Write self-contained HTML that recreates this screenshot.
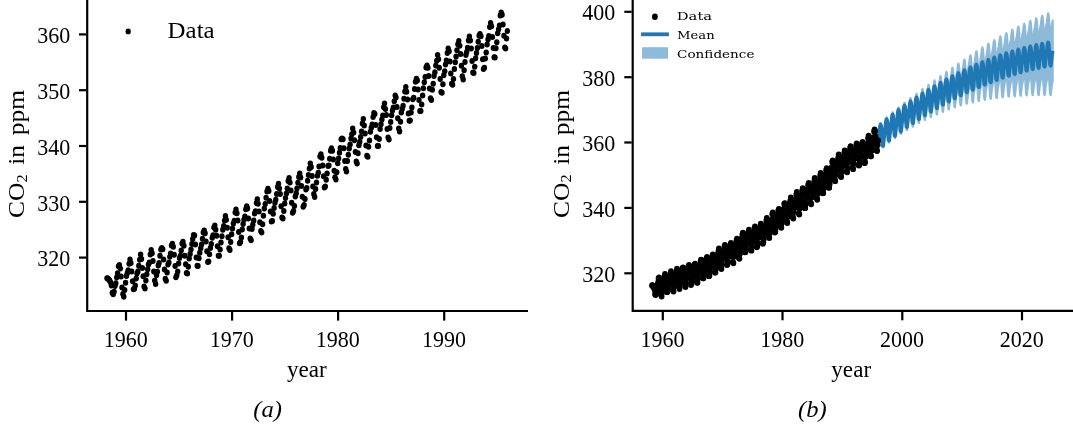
<!DOCTYPE html>
<html lang="en"><head><meta charset="utf-8"><title>CO2 in ppm</title>
<style>html,body{margin:0;padding:0;background:#fff}body{width:1073px;height:427px;overflow:hidden}svg{display:block}</style></head>
<body>
<svg width="1073" height="427" viewBox="0 0 1073 427">
<rect width="1073" height="427" fill="#fff"/>
<g opacity="0.5"><polygon fill="#1f77b4" stroke="#1f77b4" stroke-width="2.2" stroke-linejoin="round" points="878.1,139.5 878.6,136.0 879.1,133.3 879.6,129.4 880.1,125.0 880.6,122.9 881.1,124.5 881.6,130.1 882.1,137.8 882.6,143.5 883.1,143.8 883.6,139.2 884.1,133.7 884.6,130.2 885.1,127.6 885.6,123.7 886.1,119.4 886.6,117.3 887.1,119.0 887.6,124.7 888.1,132.3 888.6,138.2 889.1,138.5 889.6,133.9 890.1,128.5 890.6,125.0 891.1,122.4 891.6,118.5 892.1,114.3 892.6,112.2 893.1,114.0 893.6,119.6 894.1,127.3 894.6,133.2 895.1,133.6 895.6,129.0 896.1,123.6 896.6,120.2 897.1,117.5 897.6,113.7 898.0,109.5 898.5,107.4 899.0,109.1 899.5,114.8 900.0,122.5 900.5,128.4 901.0,128.7 901.5,124.1 902.0,118.8 902.5,115.3 903.0,112.7 903.5,108.9 904.0,104.7 904.5,102.6 905.0,104.4 905.5,110.1 906.0,117.8 906.5,123.7 907.0,124.1 907.5,119.5 908.0,114.1 908.5,110.7 909.0,108.1 909.5,104.3 910.0,100.1 910.5,98.0 911.0,99.8 911.5,105.5 912.0,113.3 912.5,119.1 913.0,119.5 913.5,115.0 914.0,109.6 914.5,106.2 915.0,103.6 915.5,99.8 916.0,95.6 916.5,93.5 917.0,95.3 917.5,101.0 918.0,108.7 918.5,114.6 919.0,115.0 919.5,110.4 920.0,105.1 920.5,101.7 921.0,99.1 921.5,95.3 922.0,91.1 922.5,89.0 923.0,90.8 923.5,96.5 924.0,104.3 924.5,110.2 925.0,110.6 925.5,106.0 926.0,100.6 926.5,97.3 927.0,94.7 927.5,90.9 928.0,86.7 928.5,84.7 929.0,86.5 929.5,92.2 930.0,99.9 930.5,105.8 931.0,106.3 931.5,101.7 932.0,96.4 932.5,93.0 933.0,90.4 933.5,86.6 934.0,82.5 934.5,80.4 935.0,82.2 935.5,87.9 936.0,95.7 936.5,101.5 937.0,102.0 937.5,97.4 938.0,92.0 938.5,88.7 939.0,86.1 939.5,82.3 940.0,78.1 940.5,76.1 941.0,77.9 941.5,83.6 942.0,91.3 942.5,97.2 943.0,97.7 943.5,93.1 943.9,87.8 944.4,84.4 944.9,81.8 945.4,78.0 945.9,73.8 946.4,71.8 946.9,73.6 947.4,79.4 947.9,87.1 948.4,93.0 948.9,93.5 949.4,88.9 949.9,83.6 950.4,80.2 950.9,77.6 951.4,73.9 951.9,69.7 952.4,67.7 952.9,69.5 953.4,75.2 953.9,83.0 954.4,88.9 954.9,89.3 955.4,84.8 955.9,79.4 956.4,76.1 956.9,73.5 957.4,69.7 957.9,65.5 958.4,63.5 958.9,65.4 959.4,71.1 959.9,78.9 960.4,84.8 960.9,85.2 961.4,80.7 961.9,75.4 962.4,72.0 962.9,69.4 963.4,65.7 963.9,61.5 964.4,59.5 964.9,61.3 965.4,67.0 965.9,74.8 966.4,80.7 966.9,81.1 967.4,76.6 967.9,71.2 968.4,67.9 968.9,65.3 969.4,61.5 969.9,57.4 970.4,55.3 970.9,57.2 971.4,62.9 971.9,70.7 972.4,76.6 972.9,77.0 973.4,72.5 973.9,67.2 974.4,63.8 974.9,61.2 975.4,57.5 975.9,53.3 976.4,51.3 976.9,53.2 977.4,58.9 977.9,66.7 978.4,72.6 978.9,73.1 979.4,68.5 979.9,63.2 980.4,59.9 980.9,57.3 981.4,53.6 981.9,49.4 982.4,47.4 982.9,49.3 983.4,55.0 983.9,62.8 984.4,68.7 984.9,69.2 985.4,64.7 985.9,59.4 986.4,56.1 986.9,53.5 987.4,49.8 987.9,45.6 988.4,43.6 988.9,45.5 989.4,51.3 989.8,59.1 990.3,65.0 990.8,65.5 991.3,61.0 991.8,55.7 992.3,52.3 992.8,49.8 993.3,46.1 993.8,41.9 994.3,40.0 994.8,41.8 995.3,47.6 995.8,55.4 996.3,61.4 996.8,61.8 997.3,57.4 997.8,52.1 998.3,48.7 998.8,46.2 999.3,42.5 999.8,38.4 1000.3,36.4 1000.8,38.3 1001.3,44.1 1001.8,51.9 1002.3,57.8 1002.8,58.3 1003.3,53.9 1003.8,48.6 1004.3,45.3 1004.8,42.7 1005.3,39.0 1005.8,34.9 1006.3,33.0 1006.8,34.9 1007.3,40.7 1007.8,48.5 1008.3,54.5 1008.8,55.0 1009.3,50.5 1009.8,45.2 1010.3,41.9 1010.8,39.4 1011.3,35.7 1011.8,31.6 1012.3,29.7 1012.8,31.6 1013.3,37.4 1013.8,45.2 1014.3,51.2 1014.8,51.7 1015.3,47.3 1015.8,42.0 1016.3,38.7 1016.8,36.2 1017.3,32.6 1017.8,28.5 1018.3,26.6 1018.8,28.5 1019.3,34.3 1019.8,42.2 1020.3,48.2 1020.8,48.7 1021.3,44.3 1021.8,39.1 1022.3,35.8 1022.8,33.3 1023.3,29.7 1023.8,25.6 1024.3,23.7 1024.8,25.6 1025.3,31.4 1025.8,39.3 1026.3,45.3 1026.8,45.9 1027.3,41.5 1027.8,36.2 1028.3,33.0 1028.8,30.5 1029.3,26.9 1029.8,22.8 1030.3,20.9 1030.8,22.9 1031.3,28.7 1031.8,36.6 1032.3,42.6 1032.8,43.2 1033.3,38.8 1033.8,33.6 1034.3,30.3 1034.8,27.9 1035.3,24.2 1035.8,20.2 1036.2,18.3 1036.7,20.3 1037.2,26.1 1037.7,34.0 1038.2,40.1 1038.7,40.6 1039.2,36.2 1039.7,31.0 1040.2,27.8 1040.7,25.3 1041.2,21.7 1041.7,17.7 1042.2,15.8 1042.7,17.8 1043.2,23.6 1043.7,31.5 1044.2,37.6 1044.7,38.2 1045.2,33.8 1045.7,28.6 1046.2,25.4 1046.7,22.9 1047.2,19.3 1047.7,15.3 1048.2,13.4 1048.7,15.4 1049.2,21.3 1049.7,29.2 1050.2,35.3 1050.7,35.9 1051.2,31.5 1051.7,26.3 1052.2,23.1 1052.7,20.7 1052.7,80.8 1052.2,83.0 1051.7,86.1 1051.2,91.0 1050.7,95.2 1050.2,94.4 1049.7,88.2 1049.2,80.1 1048.7,74.0 1048.2,71.8 1047.7,73.5 1047.2,77.3 1046.7,80.7 1046.2,82.9 1045.7,85.9 1045.2,90.9 1044.7,95.1 1044.2,94.3 1043.7,88.1 1043.2,80.0 1042.7,73.9 1042.2,71.7 1041.7,73.4 1041.2,77.2 1040.7,80.6 1040.2,82.9 1039.7,85.9 1039.2,90.9 1038.7,95.1 1038.2,94.3 1037.7,88.1 1037.2,80.0 1036.7,73.9 1036.2,71.7 1035.8,73.4 1035.3,77.3 1034.8,80.7 1034.3,82.9 1033.8,86.0 1033.3,91.0 1032.8,95.2 1032.3,94.4 1031.8,88.2 1031.3,80.1 1030.8,74.0 1030.3,71.9 1029.8,73.6 1029.3,77.4 1028.8,80.9 1028.3,83.1 1027.8,86.2 1027.3,91.2 1026.8,95.4 1026.3,94.7 1025.8,88.5 1025.3,80.4 1024.8,74.3 1024.3,72.2 1023.8,73.9 1023.3,77.8 1022.8,81.2 1022.3,83.5 1021.8,86.5 1021.3,91.6 1020.8,95.8 1020.3,95.1 1019.8,88.8 1019.3,80.8 1018.8,74.7 1018.3,72.6 1017.8,74.3 1017.3,78.2 1016.8,81.7 1016.3,83.9 1015.8,87.0 1015.3,92.0 1014.8,96.3 1014.3,95.5 1013.8,89.3 1013.3,81.2 1012.8,75.2 1012.3,73.1 1011.8,74.8 1011.3,78.6 1010.8,82.1 1010.3,84.4 1009.8,87.4 1009.3,92.5 1008.8,96.7 1008.3,96.0 1007.8,89.8 1007.3,81.7 1006.8,75.7 1006.3,73.6 1005.8,75.3 1005.3,79.2 1004.8,82.6 1004.3,84.9 1003.8,88.0 1003.3,93.1 1002.8,97.3 1002.3,96.6 1001.8,90.4 1001.3,82.3 1000.8,76.3 1000.3,74.2 999.8,76.0 999.3,79.8 998.8,83.3 998.3,85.6 997.8,88.7 997.3,93.8 996.8,98.0 996.3,97.3 995.8,91.1 995.3,83.1 994.8,77.1 994.3,75.0 993.8,76.7 993.3,80.6 992.8,84.1 992.3,86.4 991.8,89.5 991.3,94.6 990.8,98.9 990.3,98.2 989.8,92.0 989.4,84.0 988.9,78.0 988.4,75.9 987.9,77.7 987.4,81.6 986.9,85.1 986.4,87.4 985.9,90.5 985.4,95.6 984.9,99.9 984.4,99.2 983.9,93.0 983.4,85.0 982.9,79.0 982.4,77.0 981.9,78.7 981.4,82.7 980.9,86.2 980.4,88.5 979.9,91.6 979.4,96.7 978.9,101.0 978.4,100.4 977.9,94.2 977.4,86.2 976.9,80.2 976.4,78.2 975.9,80.0 975.4,83.9 974.9,87.4 974.4,89.8 973.9,92.9 973.4,98.0 972.9,102.3 972.4,101.6 971.9,95.5 971.4,87.5 970.9,81.5 970.4,79.5 969.9,81.3 969.4,85.2 968.9,88.8 968.4,91.1 967.9,94.3 967.4,99.4 966.9,103.7 966.4,103.1 965.9,96.9 965.4,88.9 964.9,83.0 964.4,81.0 963.9,82.8 963.4,86.7 962.9,90.3 962.4,92.7 961.9,95.9 961.4,101.0 960.9,105.4 960.4,104.8 959.9,98.7 959.4,90.7 958.9,84.8 958.4,82.8 957.9,84.6 957.4,88.6 956.9,92.2 956.4,94.6 955.9,97.8 955.4,103.0 954.9,107.3 954.4,106.7 953.9,100.6 953.4,92.7 952.9,86.8 952.4,84.8 951.9,86.7 951.4,90.7 950.9,94.2 950.4,96.7 949.9,99.9 949.4,105.1 948.9,109.4 948.4,108.9 947.9,102.8 947.4,94.9 946.9,89.0 946.4,87.0 945.9,88.9 945.4,92.9 944.9,96.5 944.4,99.0 943.9,102.2 943.5,107.4 943.0,111.8 942.5,111.2 942.0,105.2 941.5,97.3 941.0,91.4 940.5,89.4 940.0,91.3 939.5,95.4 939.0,99.0 938.5,101.4 938.0,104.7 937.5,109.9 937.0,114.3 936.5,113.7 936.0,107.7 935.5,99.8 935.0,93.9 934.5,92.0 934.0,93.9 933.5,98.0 933.0,101.6 932.5,104.1 932.0,107.4 931.5,112.6 931.0,117.1 930.5,116.5 930.0,110.5 929.5,102.7 929.0,96.8 928.5,94.9 928.0,96.8 927.5,100.9 927.0,104.6 926.5,107.1 926.0,110.4 925.5,115.6 925.0,120.1 924.5,119.5 924.0,113.6 923.5,105.7 923.0,99.9 922.5,98.0 922.0,99.9 921.5,104.0 921.0,107.7 920.5,110.2 920.0,113.5 919.5,118.8 919.0,123.2 918.5,122.7 918.0,116.7 917.5,108.9 917.0,103.1 916.5,101.2 916.0,103.1 915.5,107.2 915.0,110.9 914.5,113.5 914.0,116.8 913.5,122.1 913.0,126.6 912.5,126.1 912.0,120.1 911.5,112.3 911.0,106.5 910.5,104.7 910.0,106.7 909.5,110.8 909.0,114.5 908.5,117.1 908.0,120.4 907.5,125.7 907.0,130.2 906.5,129.7 906.0,123.8 905.5,116.0 905.0,110.2 904.5,108.4 904.0,110.4 903.5,114.5 903.0,118.3 902.5,120.8 902.0,124.2 901.5,129.5 901.0,134.0 900.5,133.6 900.0,127.6 899.5,119.8 899.0,114.1 898.5,112.3 898.0,114.3 897.6,118.4 897.1,122.2 896.6,124.8 896.1,128.1 895.6,133.5 895.1,138.1 894.6,137.6 894.1,131.8 893.6,124.0 893.1,118.3 892.6,116.5 892.1,118.6 891.6,122.8 891.1,126.6 890.6,129.2 890.1,132.6 889.6,138.0 889.1,142.6 888.6,142.2 888.1,136.3 887.6,128.6 887.1,122.9 886.6,121.2 886.1,123.2 885.6,127.5 885.1,131.3 884.6,134.0 884.1,137.4 883.6,142.8 883.1,147.5 882.6,147.1 882.1,141.3 881.6,133.6 881.1,128.0 880.6,126.3 880.1,128.4 879.6,132.7 879.1,136.6 878.6,139.3 878.1,142.8"/></g>
<polyline fill="none" stroke="#1f77b4" stroke-width="3.9" stroke-linejoin="round" stroke-linecap="butt" points="878.1,141.2 878.6,137.7 879.1,134.9 879.6,131.0 880.1,126.7 880.6,124.6 881.1,126.3 881.6,131.9 882.1,139.5 882.6,145.3 883.1,145.7 883.6,141.0 884.1,135.6 884.6,132.1 885.1,129.4 885.6,125.6 886.1,121.3 886.6,119.2 887.1,121.0 887.6,126.6 888.1,134.3 888.6,140.2 889.1,140.5 889.6,135.9 890.1,130.5 890.6,127.1 891.1,124.5 891.6,120.7 892.1,116.4 892.6,114.4 893.1,116.1 893.6,121.8 894.1,129.6 894.6,135.4 895.1,135.8 895.6,131.2 896.1,125.9 896.6,122.5 897.1,119.9 897.6,116.1 898.0,111.9 898.5,109.8 899.0,111.6 899.5,117.3 900.0,125.1 900.5,131.0 901.0,131.4 901.5,126.8 902.0,121.5 902.5,118.1 903.0,115.5 903.5,111.7 904.0,107.5 904.5,105.5 905.0,107.3 905.5,113.0 906.0,120.8 906.5,126.7 907.0,127.1 907.5,122.6 908.0,117.2 908.5,113.9 909.0,111.3 909.5,107.5 910.0,103.4 910.5,101.3 911.0,103.2 911.5,108.9 912.0,116.7 912.5,122.6 913.0,123.0 913.5,118.5 914.0,113.2 914.5,109.8 915.0,107.3 915.5,103.5 916.0,99.4 916.5,97.4 917.0,99.2 917.5,104.9 918.0,112.7 918.5,118.7 919.0,119.1 919.5,114.6 920.0,109.3 920.5,105.9 921.0,103.4 921.5,99.6 922.0,95.5 922.5,93.5 923.0,95.4 923.5,101.1 924.0,108.9 924.5,114.9 925.0,115.3 925.5,110.8 926.0,105.5 926.5,102.2 927.0,99.6 927.5,95.9 928.0,91.8 928.5,89.8 929.0,91.7 929.5,97.4 930.0,105.2 930.5,111.2 931.0,111.7 931.5,107.2 932.0,101.9 932.5,98.5 933.0,96.0 933.5,92.3 934.0,88.2 934.5,86.2 935.0,88.1 935.5,93.9 936.0,101.7 936.5,107.6 937.0,108.1 937.5,103.7 938.0,98.4 938.5,95.1 939.0,92.5 939.5,88.8 940.0,84.7 940.5,82.7 941.0,84.6 941.5,90.4 942.0,98.3 942.5,104.2 943.0,104.7 943.5,100.3 943.9,95.0 944.4,91.7 944.9,89.2 945.4,85.5 945.9,81.4 946.4,79.4 946.9,81.3 947.4,87.1 947.9,95.0 948.4,101.0 948.9,101.5 949.4,97.0 949.9,91.7 950.4,88.4 950.9,85.9 951.4,82.3 951.9,78.2 952.4,76.2 952.9,78.1 953.4,84.0 953.9,91.8 954.4,97.8 954.9,98.3 955.4,93.9 955.9,88.6 956.4,85.3 956.9,82.8 957.4,79.2 957.9,75.1 958.4,73.2 958.9,75.1 959.4,80.9 959.9,88.8 960.4,94.8 960.9,95.3 961.4,90.9 961.9,85.6 962.4,82.4 962.9,79.9 963.4,76.2 963.9,72.2 964.4,70.2 964.9,72.2 965.4,78.0 965.9,85.9 966.4,91.9 966.9,92.4 967.4,88.0 967.9,82.8 968.4,79.5 968.9,77.0 969.4,73.4 969.9,69.3 970.4,67.4 970.9,69.4 971.4,75.2 971.9,83.1 972.4,89.1 972.9,89.7 973.4,85.3 973.9,80.0 974.4,76.8 974.9,74.3 975.4,70.7 975.9,66.6 976.4,64.7 976.9,66.7 977.4,72.5 977.9,80.4 978.4,86.5 978.9,87.0 979.4,82.6 979.9,77.4 980.4,74.2 980.9,71.7 981.4,68.1 981.9,64.1 982.4,62.2 982.9,64.2 983.4,70.0 983.9,77.9 984.4,84.0 984.9,84.5 985.4,80.2 985.9,74.9 986.4,71.7 986.9,69.3 987.4,65.7 987.9,61.6 988.4,59.8 988.9,61.7 989.4,67.6 989.8,75.5 990.3,81.6 990.8,82.2 991.3,77.8 991.8,72.6 992.3,69.4 992.8,67.0 993.3,63.4 993.8,59.3 994.3,57.5 994.8,59.5 995.3,65.3 995.8,73.3 996.3,79.3 996.8,79.9 997.3,75.6 997.8,70.4 998.3,67.2 998.8,64.8 999.3,61.2 999.8,57.2 1000.3,55.3 1000.8,57.3 1001.3,63.2 1001.8,71.1 1002.3,77.2 1002.8,77.8 1003.3,73.5 1003.8,68.3 1004.3,65.1 1004.8,62.7 1005.3,59.1 1005.8,55.1 1006.3,53.3 1006.8,55.3 1007.3,61.2 1007.8,69.1 1008.3,75.2 1008.8,75.8 1009.3,71.5 1009.8,66.3 1010.3,63.1 1010.8,60.8 1011.3,57.2 1011.8,53.2 1012.3,51.4 1012.8,53.4 1013.3,59.3 1013.8,67.3 1014.3,73.4 1014.8,74.0 1015.3,69.6 1015.8,64.5 1016.3,61.3 1016.8,58.9 1017.3,55.4 1017.8,51.4 1018.3,49.6 1018.8,51.6 1019.3,57.5 1019.8,65.5 1020.3,71.6 1020.8,72.3 1021.3,67.9 1021.8,62.8 1022.3,59.6 1022.8,57.3 1023.3,53.7 1023.8,49.7 1024.3,47.9 1024.8,50.0 1025.3,55.9 1025.8,63.9 1026.3,70.0 1026.8,70.7 1027.3,66.3 1027.8,61.2 1028.3,58.1 1028.8,55.7 1029.3,52.2 1029.8,48.2 1030.3,46.4 1030.8,48.5 1031.3,54.4 1031.8,62.4 1032.3,68.5 1032.8,69.2 1033.3,64.9 1033.8,59.8 1034.3,56.6 1034.8,54.3 1035.3,50.7 1035.8,46.8 1036.2,45.0 1036.7,47.1 1037.2,53.0 1037.7,61.0 1038.2,67.2 1038.7,67.9 1039.2,63.6 1039.7,58.5 1040.2,55.3 1040.7,53.0 1041.2,49.5 1041.7,45.5 1042.2,43.8 1042.7,45.8 1043.2,51.8 1043.7,59.8 1044.2,66.0 1044.7,66.6 1045.2,62.4 1045.7,57.3 1046.2,54.1 1046.7,51.8 1047.2,48.3 1047.7,44.4 1048.2,42.6 1048.7,44.7 1049.2,50.7 1049.7,58.7 1050.2,64.9 1050.7,65.6 1051.2,61.3 1051.7,56.2 1052.2,53.1 1052.7,50.8"/>
<g fill="#000">
<ellipse cx="107.0" cy="278.3" rx="2.7" ry="3.0"/>
<ellipse cx="107.9" cy="278.6" rx="2.7" ry="3.0"/>
<ellipse cx="108.8" cy="279.4" rx="2.7" ry="3.0"/>
<ellipse cx="109.6" cy="280.5" rx="2.7" ry="3.0"/>
<ellipse cx="110.5" cy="282.2" rx="2.7" ry="3.0"/>
<ellipse cx="111.4" cy="285.6" rx="2.7" ry="3.0"/>
<ellipse cx="112.3" cy="292.8" rx="2.7" ry="3.0"/>
<ellipse cx="113.2" cy="294.2" rx="2.7" ry="3.0"/>
<ellipse cx="114.1" cy="291.7" rx="2.7" ry="3.0"/>
<ellipse cx="115.0" cy="286.1" rx="2.7" ry="3.0"/>
<ellipse cx="115.8" cy="283.3" rx="2.7" ry="3.0"/>
<ellipse cx="116.7" cy="277.4" rx="2.7" ry="3.0"/>
<ellipse cx="117.6" cy="273.2" rx="2.7" ry="3.0"/>
<ellipse cx="118.5" cy="266.3" rx="2.7" ry="3.0"/>
<ellipse cx="119.4" cy="265.1" rx="2.7" ry="3.0"/>
<ellipse cx="120.3" cy="268.6" rx="2.7" ry="3.0"/>
<ellipse cx="121.1" cy="276.4" rx="2.7" ry="3.0"/>
<ellipse cx="122.0" cy="287.6" rx="2.7" ry="3.0"/>
<ellipse cx="122.9" cy="294.0" rx="2.7" ry="3.0"/>
<ellipse cx="123.8" cy="296.7" rx="2.7" ry="3.0"/>
<ellipse cx="124.7" cy="290.1" rx="2.7" ry="3.0"/>
<ellipse cx="125.6" cy="282.7" rx="2.7" ry="3.0"/>
<ellipse cx="126.4" cy="275.9" rx="2.7" ry="3.0"/>
<ellipse cx="127.3" cy="273.3" rx="2.7" ry="3.0"/>
<ellipse cx="128.2" cy="270.2" rx="2.7" ry="3.0"/>
<ellipse cx="129.1" cy="263.8" rx="2.7" ry="3.0"/>
<ellipse cx="130.0" cy="259.4" rx="2.7" ry="3.0"/>
<ellipse cx="130.9" cy="263.1" rx="2.7" ry="3.0"/>
<ellipse cx="131.7" cy="271.4" rx="2.7" ry="3.0"/>
<ellipse cx="132.6" cy="281.2" rx="2.7" ry="3.0"/>
<ellipse cx="133.5" cy="289.3" rx="2.7" ry="3.0"/>
<ellipse cx="134.4" cy="288.8" rx="2.7" ry="3.0"/>
<ellipse cx="135.3" cy="285.4" rx="2.7" ry="3.0"/>
<ellipse cx="136.2" cy="278.5" rx="2.7" ry="3.0"/>
<ellipse cx="137.0" cy="273.6" rx="2.7" ry="3.0"/>
<ellipse cx="137.9" cy="271.5" rx="2.7" ry="3.0"/>
<ellipse cx="138.8" cy="265.7" rx="2.7" ry="3.0"/>
<ellipse cx="139.7" cy="259.7" rx="2.7" ry="3.0"/>
<ellipse cx="140.6" cy="254.5" rx="2.7" ry="3.0"/>
<ellipse cx="141.5" cy="258.9" rx="2.7" ry="3.0"/>
<ellipse cx="142.4" cy="268.1" rx="2.7" ry="3.0"/>
<ellipse cx="143.2" cy="276.3" rx="2.7" ry="3.0"/>
<ellipse cx="144.1" cy="286.4" rx="2.7" ry="3.0"/>
<ellipse cx="145.0" cy="288.5" rx="2.7" ry="3.0"/>
<ellipse cx="145.9" cy="280.6" rx="2.7" ry="3.0"/>
<ellipse cx="146.8" cy="274.2" rx="2.7" ry="3.0"/>
<ellipse cx="147.7" cy="269.3" rx="2.7" ry="3.0"/>
<ellipse cx="148.5" cy="264.6" rx="2.7" ry="3.0"/>
<ellipse cx="149.4" cy="262.6" rx="2.7" ry="3.0"/>
<ellipse cx="150.3" cy="254.4" rx="2.7" ry="3.0"/>
<ellipse cx="151.2" cy="250.1" rx="2.7" ry="3.0"/>
<ellipse cx="152.1" cy="253.3" rx="2.7" ry="3.0"/>
<ellipse cx="153.0" cy="260.9" rx="2.7" ry="3.0"/>
<ellipse cx="153.8" cy="271.5" rx="2.7" ry="3.0"/>
<ellipse cx="154.7" cy="280.4" rx="2.7" ry="3.0"/>
<ellipse cx="155.6" cy="283.9" rx="2.7" ry="3.0"/>
<ellipse cx="156.5" cy="275.3" rx="2.7" ry="3.0"/>
<ellipse cx="157.4" cy="271.7" rx="2.7" ry="3.0"/>
<ellipse cx="158.3" cy="265.4" rx="2.7" ry="3.0"/>
<ellipse cx="159.1" cy="263.0" rx="2.7" ry="3.0"/>
<ellipse cx="160.0" cy="255.8" rx="2.7" ry="3.0"/>
<ellipse cx="160.9" cy="249.4" rx="2.7" ry="3.0"/>
<ellipse cx="161.8" cy="248.0" rx="2.7" ry="3.0"/>
<ellipse cx="162.7" cy="249.2" rx="2.7" ry="3.0"/>
<ellipse cx="163.6" cy="259.6" rx="2.7" ry="3.0"/>
<ellipse cx="164.5" cy="269.5" rx="2.7" ry="3.0"/>
<ellipse cx="165.3" cy="278.8" rx="2.7" ry="3.0"/>
<ellipse cx="166.2" cy="280.8" rx="2.7" ry="3.0"/>
<ellipse cx="167.1" cy="272.6" rx="2.7" ry="3.0"/>
<ellipse cx="168.0" cy="264.6" rx="2.7" ry="3.0"/>
<ellipse cx="168.9" cy="262.5" rx="2.7" ry="3.0"/>
<ellipse cx="169.8" cy="256.8" rx="2.7" ry="3.0"/>
<ellipse cx="170.6" cy="253.5" rx="2.7" ry="3.0"/>
<ellipse cx="171.5" cy="245.4" rx="2.7" ry="3.0"/>
<ellipse cx="172.4" cy="243.7" rx="2.7" ry="3.0"/>
<ellipse cx="173.3" cy="246.7" rx="2.7" ry="3.0"/>
<ellipse cx="174.2" cy="254.8" rx="2.7" ry="3.0"/>
<ellipse cx="175.1" cy="266.0" rx="2.7" ry="3.0"/>
<ellipse cx="175.9" cy="277.2" rx="2.7" ry="3.0"/>
<ellipse cx="176.8" cy="275.2" rx="2.7" ry="3.0"/>
<ellipse cx="177.7" cy="271.4" rx="2.7" ry="3.0"/>
<ellipse cx="178.6" cy="263.4" rx="2.7" ry="3.0"/>
<ellipse cx="179.5" cy="258.0" rx="2.7" ry="3.0"/>
<ellipse cx="180.4" cy="255.7" rx="2.7" ry="3.0"/>
<ellipse cx="181.2" cy="250.5" rx="2.7" ry="3.0"/>
<ellipse cx="182.1" cy="243.4" rx="2.7" ry="3.0"/>
<ellipse cx="183.0" cy="241.7" rx="2.7" ry="3.0"/>
<ellipse cx="183.9" cy="245.8" rx="2.7" ry="3.0"/>
<ellipse cx="184.8" cy="255.8" rx="2.7" ry="3.0"/>
<ellipse cx="185.7" cy="264.3" rx="2.7" ry="3.0"/>
<ellipse cx="186.5" cy="273.0" rx="2.7" ry="3.0"/>
<ellipse cx="187.4" cy="273.4" rx="2.7" ry="3.0"/>
<ellipse cx="188.3" cy="266.8" rx="2.7" ry="3.0"/>
<ellipse cx="189.2" cy="258.6" rx="2.7" ry="3.0"/>
<ellipse cx="190.1" cy="254.0" rx="2.7" ry="3.0"/>
<ellipse cx="191.0" cy="249.4" rx="2.7" ry="3.0"/>
<ellipse cx="191.9" cy="243.9" rx="2.7" ry="3.0"/>
<ellipse cx="192.7" cy="238.9" rx="2.7" ry="3.0"/>
<ellipse cx="193.6" cy="235.0" rx="2.7" ry="3.0"/>
<ellipse cx="194.5" cy="235.4" rx="2.7" ry="3.0"/>
<ellipse cx="195.4" cy="244.6" rx="2.7" ry="3.0"/>
<ellipse cx="196.3" cy="257.6" rx="2.7" ry="3.0"/>
<ellipse cx="197.2" cy="265.8" rx="2.7" ry="3.0"/>
<ellipse cx="198.0" cy="265.9" rx="2.7" ry="3.0"/>
<ellipse cx="198.9" cy="258.3" rx="2.7" ry="3.0"/>
<ellipse cx="199.8" cy="252.8" rx="2.7" ry="3.0"/>
<ellipse cx="200.7" cy="248.2" rx="2.7" ry="3.0"/>
<ellipse cx="201.6" cy="244.5" rx="2.7" ry="3.0"/>
<ellipse cx="202.5" cy="238.7" rx="2.7" ry="3.0"/>
<ellipse cx="203.3" cy="232.6" rx="2.7" ry="3.0"/>
<ellipse cx="204.2" cy="230.4" rx="2.7" ry="3.0"/>
<ellipse cx="205.1" cy="233.2" rx="2.7" ry="3.0"/>
<ellipse cx="206.0" cy="241.5" rx="2.7" ry="3.0"/>
<ellipse cx="206.9" cy="251.2" rx="2.7" ry="3.0"/>
<ellipse cx="207.8" cy="262.1" rx="2.7" ry="3.0"/>
<ellipse cx="208.6" cy="261.6" rx="2.7" ry="3.0"/>
<ellipse cx="209.5" cy="254.2" rx="2.7" ry="3.0"/>
<ellipse cx="210.4" cy="247.9" rx="2.7" ry="3.0"/>
<ellipse cx="211.3" cy="243.9" rx="2.7" ry="3.0"/>
<ellipse cx="212.2" cy="237.7" rx="2.7" ry="3.0"/>
<ellipse cx="213.1" cy="235.2" rx="2.7" ry="3.0"/>
<ellipse cx="213.9" cy="227.6" rx="2.7" ry="3.0"/>
<ellipse cx="214.8" cy="225.6" rx="2.7" ry="3.0"/>
<ellipse cx="215.7" cy="229.8" rx="2.7" ry="3.0"/>
<ellipse cx="216.6" cy="235.8" rx="2.7" ry="3.0"/>
<ellipse cx="217.5" cy="246.3" rx="2.7" ry="3.0"/>
<ellipse cx="218.4" cy="255.8" rx="2.7" ry="3.0"/>
<ellipse cx="219.3" cy="255.8" rx="2.7" ry="3.0"/>
<ellipse cx="220.1" cy="249.4" rx="2.7" ry="3.0"/>
<ellipse cx="221.0" cy="242.4" rx="2.7" ry="3.0"/>
<ellipse cx="221.9" cy="236.2" rx="2.7" ry="3.0"/>
<ellipse cx="222.8" cy="229.8" rx="2.7" ry="3.0"/>
<ellipse cx="223.7" cy="226.0" rx="2.7" ry="3.0"/>
<ellipse cx="224.6" cy="220.5" rx="2.7" ry="3.0"/>
<ellipse cx="225.4" cy="215.9" rx="2.7" ry="3.0"/>
<ellipse cx="226.3" cy="219.8" rx="2.7" ry="3.0"/>
<ellipse cx="227.2" cy="227.7" rx="2.7" ry="3.0"/>
<ellipse cx="228.1" cy="237.3" rx="2.7" ry="3.0"/>
<ellipse cx="229.0" cy="248.2" rx="2.7" ry="3.0"/>
<ellipse cx="229.9" cy="250.0" rx="2.7" ry="3.0"/>
<ellipse cx="230.7" cy="242.0" rx="2.7" ry="3.0"/>
<ellipse cx="231.6" cy="234.2" rx="2.7" ry="3.0"/>
<ellipse cx="232.5" cy="228.6" rx="2.7" ry="3.0"/>
<ellipse cx="233.4" cy="223.4" rx="2.7" ry="3.0"/>
<ellipse cx="234.3" cy="220.7" rx="2.7" ry="3.0"/>
<ellipse cx="235.2" cy="212.6" rx="2.7" ry="3.0"/>
<ellipse cx="236.0" cy="209.6" rx="2.7" ry="3.0"/>
<ellipse cx="236.9" cy="213.3" rx="2.7" ry="3.0"/>
<ellipse cx="237.8" cy="220.6" rx="2.7" ry="3.0"/>
<ellipse cx="238.7" cy="232.1" rx="2.7" ry="3.0"/>
<ellipse cx="239.6" cy="243.2" rx="2.7" ry="3.0"/>
<ellipse cx="240.5" cy="242.1" rx="2.7" ry="3.0"/>
<ellipse cx="241.4" cy="237.4" rx="2.7" ry="3.0"/>
<ellipse cx="242.2" cy="229.4" rx="2.7" ry="3.0"/>
<ellipse cx="243.1" cy="224.1" rx="2.7" ry="3.0"/>
<ellipse cx="244.0" cy="219.7" rx="2.7" ry="3.0"/>
<ellipse cx="244.9" cy="216.4" rx="2.7" ry="3.0"/>
<ellipse cx="245.8" cy="209.2" rx="2.7" ry="3.0"/>
<ellipse cx="246.7" cy="206.2" rx="2.7" ry="3.0"/>
<ellipse cx="247.5" cy="208.4" rx="2.7" ry="3.0"/>
<ellipse cx="248.4" cy="218.5" rx="2.7" ry="3.0"/>
<ellipse cx="249.3" cy="228.6" rx="2.7" ry="3.0"/>
<ellipse cx="250.2" cy="238.6" rx="2.7" ry="3.0"/>
<ellipse cx="251.1" cy="240.2" rx="2.7" ry="3.0"/>
<ellipse cx="252.0" cy="228.9" rx="2.7" ry="3.0"/>
<ellipse cx="252.8" cy="224.7" rx="2.7" ry="3.0"/>
<ellipse cx="253.7" cy="220.5" rx="2.7" ry="3.0"/>
<ellipse cx="254.6" cy="213.5" rx="2.7" ry="3.0"/>
<ellipse cx="255.5" cy="211.2" rx="2.7" ry="3.0"/>
<ellipse cx="256.4" cy="203.0" rx="2.7" ry="3.0"/>
<ellipse cx="257.3" cy="199.2" rx="2.7" ry="3.0"/>
<ellipse cx="258.1" cy="203.8" rx="2.7" ry="3.0"/>
<ellipse cx="259.0" cy="211.6" rx="2.7" ry="3.0"/>
<ellipse cx="259.9" cy="222.2" rx="2.7" ry="3.0"/>
<ellipse cx="260.8" cy="230.9" rx="2.7" ry="3.0"/>
<ellipse cx="261.7" cy="232.5" rx="2.7" ry="3.0"/>
<ellipse cx="262.6" cy="224.3" rx="2.7" ry="3.0"/>
<ellipse cx="263.4" cy="215.7" rx="2.7" ry="3.0"/>
<ellipse cx="264.3" cy="208.4" rx="2.7" ry="3.0"/>
<ellipse cx="265.2" cy="204.1" rx="2.7" ry="3.0"/>
<ellipse cx="266.1" cy="197.7" rx="2.7" ry="3.0"/>
<ellipse cx="267.0" cy="191.4" rx="2.7" ry="3.0"/>
<ellipse cx="267.9" cy="188.8" rx="2.7" ry="3.0"/>
<ellipse cx="268.8" cy="191.0" rx="2.7" ry="3.0"/>
<ellipse cx="269.6" cy="201.1" rx="2.7" ry="3.0"/>
<ellipse cx="270.5" cy="211.4" rx="2.7" ry="3.0"/>
<ellipse cx="271.4" cy="221.5" rx="2.7" ry="3.0"/>
<ellipse cx="272.3" cy="221.1" rx="2.7" ry="3.0"/>
<ellipse cx="273.2" cy="213.7" rx="2.7" ry="3.0"/>
<ellipse cx="274.1" cy="208.1" rx="2.7" ry="3.0"/>
<ellipse cx="274.9" cy="202.8" rx="2.7" ry="3.0"/>
<ellipse cx="275.8" cy="199.8" rx="2.7" ry="3.0"/>
<ellipse cx="276.7" cy="193.9" rx="2.7" ry="3.0"/>
<ellipse cx="277.6" cy="187.0" rx="2.7" ry="3.0"/>
<ellipse cx="278.5" cy="183.7" rx="2.7" ry="3.0"/>
<ellipse cx="279.4" cy="188.4" rx="2.7" ry="3.0"/>
<ellipse cx="280.2" cy="194.1" rx="2.7" ry="3.0"/>
<ellipse cx="281.1" cy="206.2" rx="2.7" ry="3.0"/>
<ellipse cx="282.0" cy="217.4" rx="2.7" ry="3.0"/>
<ellipse cx="282.9" cy="218.6" rx="2.7" ry="3.0"/>
<ellipse cx="283.8" cy="211.1" rx="2.7" ry="3.0"/>
<ellipse cx="284.7" cy="203.6" rx="2.7" ry="3.0"/>
<ellipse cx="285.5" cy="198.1" rx="2.7" ry="3.0"/>
<ellipse cx="286.4" cy="193.5" rx="2.7" ry="3.0"/>
<ellipse cx="287.3" cy="188.4" rx="2.7" ry="3.0"/>
<ellipse cx="288.2" cy="181.1" rx="2.7" ry="3.0"/>
<ellipse cx="289.1" cy="178.0" rx="2.7" ry="3.0"/>
<ellipse cx="290.0" cy="182.6" rx="2.7" ry="3.0"/>
<ellipse cx="290.9" cy="190.5" rx="2.7" ry="3.0"/>
<ellipse cx="291.7" cy="202.7" rx="2.7" ry="3.0"/>
<ellipse cx="292.6" cy="212.8" rx="2.7" ry="3.0"/>
<ellipse cx="293.5" cy="211.0" rx="2.7" ry="3.0"/>
<ellipse cx="294.4" cy="206.1" rx="2.7" ry="3.0"/>
<ellipse cx="295.3" cy="196.5" rx="2.7" ry="3.0"/>
<ellipse cx="296.2" cy="193.3" rx="2.7" ry="3.0"/>
<ellipse cx="297.0" cy="188.5" rx="2.7" ry="3.0"/>
<ellipse cx="297.9" cy="182.8" rx="2.7" ry="3.0"/>
<ellipse cx="298.8" cy="177.1" rx="2.7" ry="3.0"/>
<ellipse cx="299.7" cy="173.4" rx="2.7" ry="3.0"/>
<ellipse cx="300.6" cy="177.4" rx="2.7" ry="3.0"/>
<ellipse cx="301.5" cy="185.9" rx="2.7" ry="3.0"/>
<ellipse cx="302.3" cy="196.7" rx="2.7" ry="3.0"/>
<ellipse cx="303.2" cy="206.8" rx="2.7" ry="3.0"/>
<ellipse cx="304.1" cy="204.9" rx="2.7" ry="3.0"/>
<ellipse cx="305.0" cy="198.9" rx="2.7" ry="3.0"/>
<ellipse cx="305.9" cy="189.6" rx="2.7" ry="3.0"/>
<ellipse cx="306.8" cy="188.0" rx="2.7" ry="3.0"/>
<ellipse cx="307.6" cy="180.7" rx="2.7" ry="3.0"/>
<ellipse cx="308.5" cy="175.0" rx="2.7" ry="3.0"/>
<ellipse cx="309.4" cy="168.6" rx="2.7" ry="3.0"/>
<ellipse cx="310.3" cy="163.5" rx="2.7" ry="3.0"/>
<ellipse cx="311.2" cy="166.9" rx="2.7" ry="3.0"/>
<ellipse cx="312.1" cy="176.1" rx="2.7" ry="3.0"/>
<ellipse cx="312.9" cy="186.5" rx="2.7" ry="3.0"/>
<ellipse cx="313.8" cy="193.9" rx="2.7" ry="3.0"/>
<ellipse cx="314.7" cy="196.9" rx="2.7" ry="3.0"/>
<ellipse cx="315.6" cy="189.1" rx="2.7" ry="3.0"/>
<ellipse cx="316.5" cy="182.4" rx="2.7" ry="3.0"/>
<ellipse cx="317.4" cy="175.8" rx="2.7" ry="3.0"/>
<ellipse cx="318.3" cy="172.7" rx="2.7" ry="3.0"/>
<ellipse cx="319.1" cy="166.4" rx="2.7" ry="3.0"/>
<ellipse cx="320.0" cy="156.5" rx="2.7" ry="3.0"/>
<ellipse cx="320.9" cy="154.3" rx="2.7" ry="3.0"/>
<ellipse cx="321.8" cy="157.7" rx="2.7" ry="3.0"/>
<ellipse cx="322.7" cy="165.6" rx="2.7" ry="3.0"/>
<ellipse cx="323.6" cy="176.2" rx="2.7" ry="3.0"/>
<ellipse cx="324.4" cy="187.4" rx="2.7" ry="3.0"/>
<ellipse cx="325.3" cy="186.5" rx="2.7" ry="3.0"/>
<ellipse cx="326.2" cy="179.8" rx="2.7" ry="3.0"/>
<ellipse cx="327.1" cy="173.4" rx="2.7" ry="3.0"/>
<ellipse cx="328.0" cy="165.9" rx="2.7" ry="3.0"/>
<ellipse cx="328.9" cy="165.5" rx="2.7" ry="3.0"/>
<ellipse cx="329.7" cy="158.7" rx="2.7" ry="3.0"/>
<ellipse cx="330.6" cy="150.7" rx="2.7" ry="3.0"/>
<ellipse cx="331.5" cy="148.3" rx="2.7" ry="3.0"/>
<ellipse cx="332.4" cy="150.7" rx="2.7" ry="3.0"/>
<ellipse cx="333.3" cy="159.6" rx="2.7" ry="3.0"/>
<ellipse cx="334.2" cy="170.8" rx="2.7" ry="3.0"/>
<ellipse cx="335.0" cy="177.2" rx="2.7" ry="3.0"/>
<ellipse cx="335.9" cy="179.6" rx="2.7" ry="3.0"/>
<ellipse cx="336.8" cy="172.3" rx="2.7" ry="3.0"/>
<ellipse cx="337.7" cy="163.2" rx="2.7" ry="3.0"/>
<ellipse cx="338.6" cy="158.6" rx="2.7" ry="3.0"/>
<ellipse cx="339.5" cy="152.7" rx="2.7" ry="3.0"/>
<ellipse cx="340.3" cy="148.0" rx="2.7" ry="3.0"/>
<ellipse cx="341.2" cy="139.3" rx="2.7" ry="3.0"/>
<ellipse cx="342.1" cy="138.5" rx="2.7" ry="3.0"/>
<ellipse cx="343.0" cy="139.2" rx="2.7" ry="3.0"/>
<ellipse cx="343.9" cy="148.3" rx="2.7" ry="3.0"/>
<ellipse cx="344.8" cy="161.1" rx="2.7" ry="3.0"/>
<ellipse cx="345.7" cy="168.9" rx="2.7" ry="3.0"/>
<ellipse cx="346.5" cy="171.4" rx="2.7" ry="3.0"/>
<ellipse cx="347.4" cy="161.1" rx="2.7" ry="3.0"/>
<ellipse cx="348.3" cy="154.7" rx="2.7" ry="3.0"/>
<ellipse cx="349.2" cy="148.5" rx="2.7" ry="3.0"/>
<ellipse cx="350.1" cy="144.6" rx="2.7" ry="3.0"/>
<ellipse cx="351.0" cy="138.6" rx="2.7" ry="3.0"/>
<ellipse cx="351.8" cy="134.2" rx="2.7" ry="3.0"/>
<ellipse cx="352.7" cy="128.6" rx="2.7" ry="3.0"/>
<ellipse cx="353.6" cy="132.5" rx="2.7" ry="3.0"/>
<ellipse cx="354.5" cy="140.2" rx="2.7" ry="3.0"/>
<ellipse cx="355.4" cy="152.1" rx="2.7" ry="3.0"/>
<ellipse cx="356.3" cy="161.6" rx="2.7" ry="3.0"/>
<ellipse cx="357.1" cy="163.6" rx="2.7" ry="3.0"/>
<ellipse cx="358.0" cy="153.2" rx="2.7" ry="3.0"/>
<ellipse cx="358.9" cy="145.2" rx="2.7" ry="3.0"/>
<ellipse cx="359.8" cy="141.7" rx="2.7" ry="3.0"/>
<ellipse cx="360.7" cy="137.0" rx="2.7" ry="3.0"/>
<ellipse cx="361.6" cy="131.6" rx="2.7" ry="3.0"/>
<ellipse cx="362.4" cy="123.4" rx="2.7" ry="3.0"/>
<ellipse cx="363.3" cy="119.1" rx="2.7" ry="3.0"/>
<ellipse cx="364.2" cy="125.5" rx="2.7" ry="3.0"/>
<ellipse cx="365.1" cy="133.5" rx="2.7" ry="3.0"/>
<ellipse cx="366.0" cy="145.6" rx="2.7" ry="3.0"/>
<ellipse cx="366.9" cy="155.7" rx="2.7" ry="3.0"/>
<ellipse cx="367.8" cy="156.7" rx="2.7" ry="3.0"/>
<ellipse cx="368.6" cy="146.7" rx="2.7" ry="3.0"/>
<ellipse cx="369.5" cy="140.6" rx="2.7" ry="3.0"/>
<ellipse cx="370.4" cy="131.8" rx="2.7" ry="3.0"/>
<ellipse cx="371.3" cy="127.7" rx="2.7" ry="3.0"/>
<ellipse cx="372.2" cy="124.4" rx="2.7" ry="3.0"/>
<ellipse cx="373.1" cy="117.0" rx="2.7" ry="3.0"/>
<ellipse cx="373.9" cy="112.9" rx="2.7" ry="3.0"/>
<ellipse cx="374.8" cy="114.0" rx="2.7" ry="3.0"/>
<ellipse cx="375.7" cy="124.9" rx="2.7" ry="3.0"/>
<ellipse cx="376.6" cy="137.2" rx="2.7" ry="3.0"/>
<ellipse cx="377.5" cy="145.9" rx="2.7" ry="3.0"/>
<ellipse cx="378.4" cy="146.0" rx="2.7" ry="3.0"/>
<ellipse cx="379.2" cy="139.0" rx="2.7" ry="3.0"/>
<ellipse cx="380.1" cy="129.1" rx="2.7" ry="3.0"/>
<ellipse cx="381.0" cy="124.3" rx="2.7" ry="3.0"/>
<ellipse cx="381.9" cy="119.4" rx="2.7" ry="3.0"/>
<ellipse cx="382.8" cy="115.5" rx="2.7" ry="3.0"/>
<ellipse cx="383.7" cy="107.3" rx="2.7" ry="3.0"/>
<ellipse cx="384.5" cy="103.6" rx="2.7" ry="3.0"/>
<ellipse cx="385.4" cy="109.0" rx="2.7" ry="3.0"/>
<ellipse cx="386.3" cy="115.1" rx="2.7" ry="3.0"/>
<ellipse cx="387.2" cy="128.9" rx="2.7" ry="3.0"/>
<ellipse cx="388.1" cy="137.4" rx="2.7" ry="3.0"/>
<ellipse cx="389.0" cy="139.4" rx="2.7" ry="3.0"/>
<ellipse cx="389.8" cy="128.0" rx="2.7" ry="3.0"/>
<ellipse cx="390.7" cy="122.0" rx="2.7" ry="3.0"/>
<ellipse cx="391.6" cy="115.3" rx="2.7" ry="3.0"/>
<ellipse cx="392.5" cy="110.6" rx="2.7" ry="3.0"/>
<ellipse cx="393.4" cy="107.6" rx="2.7" ry="3.0"/>
<ellipse cx="394.3" cy="101.2" rx="2.7" ry="3.0"/>
<ellipse cx="395.2" cy="95.5" rx="2.7" ry="3.0"/>
<ellipse cx="396.0" cy="97.5" rx="2.7" ry="3.0"/>
<ellipse cx="396.9" cy="107.1" rx="2.7" ry="3.0"/>
<ellipse cx="397.8" cy="118.3" rx="2.7" ry="3.0"/>
<ellipse cx="398.7" cy="128.6" rx="2.7" ry="3.0"/>
<ellipse cx="399.6" cy="131.6" rx="2.7" ry="3.0"/>
<ellipse cx="400.5" cy="121.8" rx="2.7" ry="3.0"/>
<ellipse cx="401.3" cy="112.5" rx="2.7" ry="3.0"/>
<ellipse cx="402.2" cy="108.9" rx="2.7" ry="3.0"/>
<ellipse cx="403.1" cy="105.8" rx="2.7" ry="3.0"/>
<ellipse cx="404.0" cy="98.7" rx="2.7" ry="3.0"/>
<ellipse cx="404.9" cy="91.6" rx="2.7" ry="3.0"/>
<ellipse cx="405.8" cy="87.0" rx="2.7" ry="3.0"/>
<ellipse cx="406.6" cy="91.7" rx="2.7" ry="3.0"/>
<ellipse cx="407.5" cy="99.5" rx="2.7" ry="3.0"/>
<ellipse cx="408.4" cy="113.6" rx="2.7" ry="3.0"/>
<ellipse cx="409.3" cy="120.7" rx="2.7" ry="3.0"/>
<ellipse cx="410.2" cy="120.4" rx="2.7" ry="3.0"/>
<ellipse cx="411.1" cy="112.5" rx="2.7" ry="3.0"/>
<ellipse cx="411.9" cy="107.4" rx="2.7" ry="3.0"/>
<ellipse cx="412.8" cy="99.2" rx="2.7" ry="3.0"/>
<ellipse cx="413.7" cy="97.7" rx="2.7" ry="3.0"/>
<ellipse cx="414.6" cy="89.0" rx="2.7" ry="3.0"/>
<ellipse cx="415.5" cy="81.7" rx="2.7" ry="3.0"/>
<ellipse cx="416.4" cy="78.7" rx="2.7" ry="3.0"/>
<ellipse cx="417.3" cy="80.6" rx="2.7" ry="3.0"/>
<ellipse cx="418.1" cy="89.4" rx="2.7" ry="3.0"/>
<ellipse cx="419.0" cy="100.1" rx="2.7" ry="3.0"/>
<ellipse cx="419.9" cy="110.9" rx="2.7" ry="3.0"/>
<ellipse cx="420.8" cy="111.0" rx="2.7" ry="3.0"/>
<ellipse cx="421.7" cy="104.6" rx="2.7" ry="3.0"/>
<ellipse cx="422.6" cy="95.6" rx="2.7" ry="3.0"/>
<ellipse cx="423.4" cy="88.2" rx="2.7" ry="3.0"/>
<ellipse cx="424.3" cy="82.3" rx="2.7" ry="3.0"/>
<ellipse cx="425.2" cy="76.9" rx="2.7" ry="3.0"/>
<ellipse cx="426.1" cy="67.4" rx="2.7" ry="3.0"/>
<ellipse cx="427.0" cy="65.5" rx="2.7" ry="3.0"/>
<ellipse cx="427.9" cy="67.8" rx="2.7" ry="3.0"/>
<ellipse cx="428.7" cy="76.0" rx="2.7" ry="3.0"/>
<ellipse cx="429.6" cy="88.6" rx="2.7" ry="3.0"/>
<ellipse cx="430.5" cy="98.3" rx="2.7" ry="3.0"/>
<ellipse cx="431.4" cy="99.9" rx="2.7" ry="3.0"/>
<ellipse cx="432.3" cy="89.8" rx="2.7" ry="3.0"/>
<ellipse cx="433.2" cy="83.7" rx="2.7" ry="3.0"/>
<ellipse cx="434.0" cy="75.9" rx="2.7" ry="3.0"/>
<ellipse cx="434.9" cy="72.3" rx="2.7" ry="3.0"/>
<ellipse cx="435.8" cy="65.4" rx="2.7" ry="3.0"/>
<ellipse cx="436.7" cy="60.8" rx="2.7" ry="3.0"/>
<ellipse cx="437.6" cy="55.0" rx="2.7" ry="3.0"/>
<ellipse cx="438.5" cy="59.3" rx="2.7" ry="3.0"/>
<ellipse cx="439.3" cy="67.7" rx="2.7" ry="3.0"/>
<ellipse cx="440.2" cy="78.9" rx="2.7" ry="3.0"/>
<ellipse cx="441.1" cy="91.9" rx="2.7" ry="3.0"/>
<ellipse cx="442.0" cy="92.8" rx="2.7" ry="3.0"/>
<ellipse cx="442.9" cy="84.3" rx="2.7" ry="3.0"/>
<ellipse cx="443.8" cy="75.3" rx="2.7" ry="3.0"/>
<ellipse cx="444.7" cy="71.2" rx="2.7" ry="3.0"/>
<ellipse cx="445.5" cy="64.6" rx="2.7" ry="3.0"/>
<ellipse cx="446.4" cy="60.6" rx="2.7" ry="3.0"/>
<ellipse cx="447.3" cy="53.0" rx="2.7" ry="3.0"/>
<ellipse cx="448.2" cy="48.5" rx="2.7" ry="3.0"/>
<ellipse cx="449.1" cy="51.2" rx="2.7" ry="3.0"/>
<ellipse cx="450.0" cy="61.4" rx="2.7" ry="3.0"/>
<ellipse cx="450.8" cy="73.5" rx="2.7" ry="3.0"/>
<ellipse cx="451.7" cy="83.8" rx="2.7" ry="3.0"/>
<ellipse cx="452.6" cy="84.8" rx="2.7" ry="3.0"/>
<ellipse cx="453.5" cy="79.1" rx="2.7" ry="3.0"/>
<ellipse cx="454.4" cy="69.0" rx="2.7" ry="3.0"/>
<ellipse cx="455.3" cy="62.3" rx="2.7" ry="3.0"/>
<ellipse cx="456.1" cy="56.6" rx="2.7" ry="3.0"/>
<ellipse cx="457.0" cy="50.3" rx="2.7" ry="3.0"/>
<ellipse cx="457.9" cy="44.2" rx="2.7" ry="3.0"/>
<ellipse cx="458.8" cy="41.1" rx="2.7" ry="3.0"/>
<ellipse cx="459.7" cy="45.7" rx="2.7" ry="3.0"/>
<ellipse cx="460.6" cy="53.9" rx="2.7" ry="3.0"/>
<ellipse cx="461.4" cy="65.8" rx="2.7" ry="3.0"/>
<ellipse cx="462.3" cy="76.3" rx="2.7" ry="3.0"/>
<ellipse cx="463.2" cy="79.4" rx="2.7" ry="3.0"/>
<ellipse cx="464.1" cy="70.3" rx="2.7" ry="3.0"/>
<ellipse cx="465.0" cy="62.0" rx="2.7" ry="3.0"/>
<ellipse cx="465.9" cy="54.9" rx="2.7" ry="3.0"/>
<ellipse cx="466.7" cy="52.0" rx="2.7" ry="3.0"/>
<ellipse cx="467.6" cy="47.7" rx="2.7" ry="3.0"/>
<ellipse cx="468.5" cy="40.5" rx="2.7" ry="3.0"/>
<ellipse cx="469.4" cy="36.6" rx="2.7" ry="3.0"/>
<ellipse cx="470.3" cy="40.6" rx="2.7" ry="3.0"/>
<ellipse cx="471.2" cy="48.6" rx="2.7" ry="3.0"/>
<ellipse cx="472.1" cy="61.1" rx="2.7" ry="3.0"/>
<ellipse cx="472.9" cy="72.6" rx="2.7" ry="3.0"/>
<ellipse cx="473.8" cy="73.1" rx="2.7" ry="3.0"/>
<ellipse cx="474.7" cy="66.8" rx="2.7" ry="3.0"/>
<ellipse cx="475.6" cy="58.3" rx="2.7" ry="3.0"/>
<ellipse cx="476.5" cy="53.0" rx="2.7" ry="3.0"/>
<ellipse cx="477.4" cy="48.1" rx="2.7" ry="3.0"/>
<ellipse cx="478.2" cy="41.8" rx="2.7" ry="3.0"/>
<ellipse cx="479.1" cy="35.8" rx="2.7" ry="3.0"/>
<ellipse cx="480.0" cy="34.1" rx="2.7" ry="3.0"/>
<ellipse cx="480.9" cy="36.3" rx="2.7" ry="3.0"/>
<ellipse cx="481.8" cy="46.1" rx="2.7" ry="3.0"/>
<ellipse cx="482.7" cy="59.2" rx="2.7" ry="3.0"/>
<ellipse cx="483.5" cy="69.1" rx="2.7" ry="3.0"/>
<ellipse cx="484.4" cy="67.8" rx="2.7" ry="3.0"/>
<ellipse cx="485.3" cy="58.6" rx="2.7" ry="3.0"/>
<ellipse cx="486.2" cy="52.6" rx="2.7" ry="3.0"/>
<ellipse cx="487.1" cy="44.6" rx="2.7" ry="3.0"/>
<ellipse cx="488.0" cy="39.4" rx="2.7" ry="3.0"/>
<ellipse cx="488.8" cy="36.1" rx="2.7" ry="3.0"/>
<ellipse cx="489.7" cy="27.1" rx="2.7" ry="3.0"/>
<ellipse cx="490.6" cy="23.1" rx="2.7" ry="3.0"/>
<ellipse cx="491.5" cy="26.3" rx="2.7" ry="3.0"/>
<ellipse cx="492.4" cy="37.1" rx="2.7" ry="3.0"/>
<ellipse cx="493.3" cy="48.1" rx="2.7" ry="3.0"/>
<ellipse cx="494.2" cy="57.3" rx="2.7" ry="3.0"/>
<ellipse cx="495.0" cy="57.5" rx="2.7" ry="3.0"/>
<ellipse cx="495.9" cy="48.3" rx="2.7" ry="3.0"/>
<ellipse cx="496.8" cy="42.2" rx="2.7" ry="3.0"/>
<ellipse cx="497.7" cy="33.2" rx="2.7" ry="3.0"/>
<ellipse cx="498.6" cy="29.3" rx="2.7" ry="3.0"/>
<ellipse cx="499.5" cy="25.6" rx="2.7" ry="3.0"/>
<ellipse cx="500.3" cy="15.5" rx="2.7" ry="3.0"/>
<ellipse cx="501.2" cy="12.4" rx="2.7" ry="3.0"/>
<ellipse cx="502.1" cy="14.8" rx="2.7" ry="3.0"/>
<ellipse cx="503.0" cy="24.6" rx="2.7" ry="3.0"/>
<ellipse cx="503.9" cy="35.7" rx="2.7" ry="3.0"/>
<ellipse cx="504.8" cy="47.4" rx="2.7" ry="3.0"/>
<ellipse cx="505.6" cy="48.4" rx="2.7" ry="3.0"/>
<ellipse cx="506.5" cy="38.6" rx="2.7" ry="3.0"/>
<ellipse cx="507.4" cy="31.0" rx="2.7" ry="3.0"/>
<ellipse cx="652.1" cy="285.4" rx="2.9" ry="3.2"/>
<ellipse cx="652.6" cy="285.6" rx="2.9" ry="3.2"/>
<ellipse cx="653.1" cy="286.0" rx="2.9" ry="3.2"/>
<ellipse cx="653.6" cy="286.7" rx="2.9" ry="3.2"/>
<ellipse cx="654.1" cy="287.7" rx="2.9" ry="3.2"/>
<ellipse cx="654.6" cy="289.6" rx="2.9" ry="3.2"/>
<ellipse cx="655.1" cy="293.9" rx="2.9" ry="3.2"/>
<ellipse cx="655.6" cy="294.7" rx="2.9" ry="3.2"/>
<ellipse cx="656.1" cy="293.2" rx="2.9" ry="3.2"/>
<ellipse cx="656.6" cy="290.0" rx="2.9" ry="3.2"/>
<ellipse cx="657.1" cy="288.3" rx="2.9" ry="3.2"/>
<ellipse cx="657.6" cy="284.9" rx="2.9" ry="3.2"/>
<ellipse cx="658.1" cy="282.4" rx="2.9" ry="3.2"/>
<ellipse cx="658.6" cy="278.4" rx="2.9" ry="3.2"/>
<ellipse cx="659.1" cy="277.7" rx="2.9" ry="3.2"/>
<ellipse cx="659.6" cy="279.7" rx="2.9" ry="3.2"/>
<ellipse cx="660.1" cy="284.3" rx="2.9" ry="3.2"/>
<ellipse cx="660.6" cy="290.9" rx="2.9" ry="3.2"/>
<ellipse cx="661.1" cy="294.6" rx="2.9" ry="3.2"/>
<ellipse cx="661.6" cy="296.2" rx="2.9" ry="3.2"/>
<ellipse cx="662.1" cy="292.3" rx="2.9" ry="3.2"/>
<ellipse cx="662.6" cy="288.0" rx="2.9" ry="3.2"/>
<ellipse cx="663.0" cy="284.0" rx="2.9" ry="3.2"/>
<ellipse cx="663.5" cy="282.5" rx="2.9" ry="3.2"/>
<ellipse cx="664.0" cy="280.7" rx="2.9" ry="3.2"/>
<ellipse cx="664.5" cy="276.9" rx="2.9" ry="3.2"/>
<ellipse cx="665.0" cy="274.3" rx="2.9" ry="3.2"/>
<ellipse cx="665.5" cy="276.5" rx="2.9" ry="3.2"/>
<ellipse cx="666.0" cy="281.4" rx="2.9" ry="3.2"/>
<ellipse cx="666.5" cy="287.1" rx="2.9" ry="3.2"/>
<ellipse cx="667.0" cy="291.9" rx="2.9" ry="3.2"/>
<ellipse cx="667.5" cy="291.6" rx="2.9" ry="3.2"/>
<ellipse cx="668.0" cy="289.6" rx="2.9" ry="3.2"/>
<ellipse cx="668.5" cy="285.5" rx="2.9" ry="3.2"/>
<ellipse cx="669.0" cy="282.6" rx="2.9" ry="3.2"/>
<ellipse cx="669.5" cy="281.4" rx="2.9" ry="3.2"/>
<ellipse cx="670.0" cy="278.0" rx="2.9" ry="3.2"/>
<ellipse cx="670.5" cy="274.5" rx="2.9" ry="3.2"/>
<ellipse cx="671.0" cy="271.5" rx="2.9" ry="3.2"/>
<ellipse cx="671.5" cy="274.0" rx="2.9" ry="3.2"/>
<ellipse cx="672.0" cy="279.4" rx="2.9" ry="3.2"/>
<ellipse cx="672.5" cy="284.2" rx="2.9" ry="3.2"/>
<ellipse cx="673.0" cy="290.1" rx="2.9" ry="3.2"/>
<ellipse cx="673.5" cy="291.3" rx="2.9" ry="3.2"/>
<ellipse cx="674.0" cy="286.8" rx="2.9" ry="3.2"/>
<ellipse cx="674.5" cy="283.0" rx="2.9" ry="3.2"/>
<ellipse cx="675.0" cy="280.1" rx="2.9" ry="3.2"/>
<ellipse cx="675.5" cy="277.4" rx="2.9" ry="3.2"/>
<ellipse cx="676.0" cy="276.2" rx="2.9" ry="3.2"/>
<ellipse cx="676.5" cy="271.4" rx="2.9" ry="3.2"/>
<ellipse cx="677.0" cy="268.9" rx="2.9" ry="3.2"/>
<ellipse cx="677.5" cy="270.7" rx="2.9" ry="3.2"/>
<ellipse cx="678.0" cy="275.2" rx="2.9" ry="3.2"/>
<ellipse cx="678.5" cy="281.4" rx="2.9" ry="3.2"/>
<ellipse cx="679.0" cy="286.6" rx="2.9" ry="3.2"/>
<ellipse cx="679.5" cy="288.7" rx="2.9" ry="3.2"/>
<ellipse cx="680.0" cy="283.6" rx="2.9" ry="3.2"/>
<ellipse cx="680.5" cy="281.5" rx="2.9" ry="3.2"/>
<ellipse cx="681.0" cy="277.8" rx="2.9" ry="3.2"/>
<ellipse cx="681.5" cy="276.4" rx="2.9" ry="3.2"/>
<ellipse cx="682.0" cy="272.2" rx="2.9" ry="3.2"/>
<ellipse cx="682.5" cy="268.4" rx="2.9" ry="3.2"/>
<ellipse cx="683.0" cy="267.6" rx="2.9" ry="3.2"/>
<ellipse cx="683.5" cy="268.4" rx="2.9" ry="3.2"/>
<ellipse cx="684.0" cy="274.5" rx="2.9" ry="3.2"/>
<ellipse cx="684.5" cy="280.2" rx="2.9" ry="3.2"/>
<ellipse cx="685.0" cy="285.7" rx="2.9" ry="3.2"/>
<ellipse cx="685.5" cy="286.8" rx="2.9" ry="3.2"/>
<ellipse cx="686.0" cy="282.0" rx="2.9" ry="3.2"/>
<ellipse cx="686.5" cy="277.4" rx="2.9" ry="3.2"/>
<ellipse cx="687.0" cy="276.1" rx="2.9" ry="3.2"/>
<ellipse cx="687.5" cy="272.8" rx="2.9" ry="3.2"/>
<ellipse cx="688.0" cy="270.9" rx="2.9" ry="3.2"/>
<ellipse cx="688.5" cy="266.1" rx="2.9" ry="3.2"/>
<ellipse cx="689.0" cy="265.2" rx="2.9" ry="3.2"/>
<ellipse cx="689.5" cy="266.9" rx="2.9" ry="3.2"/>
<ellipse cx="690.0" cy="271.6" rx="2.9" ry="3.2"/>
<ellipse cx="690.5" cy="278.2" rx="2.9" ry="3.2"/>
<ellipse cx="691.0" cy="284.7" rx="2.9" ry="3.2"/>
<ellipse cx="691.5" cy="283.6" rx="2.9" ry="3.2"/>
<ellipse cx="692.0" cy="281.3" rx="2.9" ry="3.2"/>
<ellipse cx="692.5" cy="276.7" rx="2.9" ry="3.2"/>
<ellipse cx="693.0" cy="273.5" rx="2.9" ry="3.2"/>
<ellipse cx="693.5" cy="272.2" rx="2.9" ry="3.2"/>
<ellipse cx="694.0" cy="269.1" rx="2.9" ry="3.2"/>
<ellipse cx="694.5" cy="264.9" rx="2.9" ry="3.2"/>
<ellipse cx="695.0" cy="263.9" rx="2.9" ry="3.2"/>
<ellipse cx="695.5" cy="266.4" rx="2.9" ry="3.2"/>
<ellipse cx="696.0" cy="272.2" rx="2.9" ry="3.2"/>
<ellipse cx="696.5" cy="277.2" rx="2.9" ry="3.2"/>
<ellipse cx="697.0" cy="282.3" rx="2.9" ry="3.2"/>
<ellipse cx="697.5" cy="282.5" rx="2.9" ry="3.2"/>
<ellipse cx="698.0" cy="278.6" rx="2.9" ry="3.2"/>
<ellipse cx="698.5" cy="273.8" rx="2.9" ry="3.2"/>
<ellipse cx="699.0" cy="271.2" rx="2.9" ry="3.2"/>
<ellipse cx="699.5" cy="268.5" rx="2.9" ry="3.2"/>
<ellipse cx="700.0" cy="265.3" rx="2.9" ry="3.2"/>
<ellipse cx="700.5" cy="262.3" rx="2.9" ry="3.2"/>
<ellipse cx="701.0" cy="260.0" rx="2.9" ry="3.2"/>
<ellipse cx="701.5" cy="260.3" rx="2.9" ry="3.2"/>
<ellipse cx="702.0" cy="265.7" rx="2.9" ry="3.2"/>
<ellipse cx="702.5" cy="273.3" rx="2.9" ry="3.2"/>
<ellipse cx="703.0" cy="278.1" rx="2.9" ry="3.2"/>
<ellipse cx="703.5" cy="278.1" rx="2.9" ry="3.2"/>
<ellipse cx="704.0" cy="273.7" rx="2.9" ry="3.2"/>
<ellipse cx="704.5" cy="270.5" rx="2.9" ry="3.2"/>
<ellipse cx="705.0" cy="267.8" rx="2.9" ry="3.2"/>
<ellipse cx="705.5" cy="265.6" rx="2.9" ry="3.2"/>
<ellipse cx="706.0" cy="262.2" rx="2.9" ry="3.2"/>
<ellipse cx="706.5" cy="258.6" rx="2.9" ry="3.2"/>
<ellipse cx="707.0" cy="257.3" rx="2.9" ry="3.2"/>
<ellipse cx="707.5" cy="259.0" rx="2.9" ry="3.2"/>
<ellipse cx="708.0" cy="263.9" rx="2.9" ry="3.2"/>
<ellipse cx="708.5" cy="269.5" rx="2.9" ry="3.2"/>
<ellipse cx="708.9" cy="275.9" rx="2.9" ry="3.2"/>
<ellipse cx="709.4" cy="275.6" rx="2.9" ry="3.2"/>
<ellipse cx="709.9" cy="271.3" rx="2.9" ry="3.2"/>
<ellipse cx="710.4" cy="267.6" rx="2.9" ry="3.2"/>
<ellipse cx="710.9" cy="265.2" rx="2.9" ry="3.2"/>
<ellipse cx="711.4" cy="261.6" rx="2.9" ry="3.2"/>
<ellipse cx="711.9" cy="260.1" rx="2.9" ry="3.2"/>
<ellipse cx="712.4" cy="255.7" rx="2.9" ry="3.2"/>
<ellipse cx="712.9" cy="254.6" rx="2.9" ry="3.2"/>
<ellipse cx="713.4" cy="257.0" rx="2.9" ry="3.2"/>
<ellipse cx="713.9" cy="260.5" rx="2.9" ry="3.2"/>
<ellipse cx="714.4" cy="266.6" rx="2.9" ry="3.2"/>
<ellipse cx="714.9" cy="272.2" rx="2.9" ry="3.2"/>
<ellipse cx="715.4" cy="272.2" rx="2.9" ry="3.2"/>
<ellipse cx="715.9" cy="268.5" rx="2.9" ry="3.2"/>
<ellipse cx="716.4" cy="264.4" rx="2.9" ry="3.2"/>
<ellipse cx="716.9" cy="260.7" rx="2.9" ry="3.2"/>
<ellipse cx="717.4" cy="257.0" rx="2.9" ry="3.2"/>
<ellipse cx="717.9" cy="254.7" rx="2.9" ry="3.2"/>
<ellipse cx="718.4" cy="251.5" rx="2.9" ry="3.2"/>
<ellipse cx="718.9" cy="248.8" rx="2.9" ry="3.2"/>
<ellipse cx="719.4" cy="251.1" rx="2.9" ry="3.2"/>
<ellipse cx="719.9" cy="255.8" rx="2.9" ry="3.2"/>
<ellipse cx="720.4" cy="261.4" rx="2.9" ry="3.2"/>
<ellipse cx="720.9" cy="267.7" rx="2.9" ry="3.2"/>
<ellipse cx="721.4" cy="268.8" rx="2.9" ry="3.2"/>
<ellipse cx="721.9" cy="264.2" rx="2.9" ry="3.2"/>
<ellipse cx="722.4" cy="259.5" rx="2.9" ry="3.2"/>
<ellipse cx="722.9" cy="256.3" rx="2.9" ry="3.2"/>
<ellipse cx="723.4" cy="253.2" rx="2.9" ry="3.2"/>
<ellipse cx="723.9" cy="251.7" rx="2.9" ry="3.2"/>
<ellipse cx="724.4" cy="246.9" rx="2.9" ry="3.2"/>
<ellipse cx="724.9" cy="245.2" rx="2.9" ry="3.2"/>
<ellipse cx="725.4" cy="247.3" rx="2.9" ry="3.2"/>
<ellipse cx="725.9" cy="251.6" rx="2.9" ry="3.2"/>
<ellipse cx="726.4" cy="258.3" rx="2.9" ry="3.2"/>
<ellipse cx="726.9" cy="264.8" rx="2.9" ry="3.2"/>
<ellipse cx="727.4" cy="264.2" rx="2.9" ry="3.2"/>
<ellipse cx="727.9" cy="261.4" rx="2.9" ry="3.2"/>
<ellipse cx="728.4" cy="256.7" rx="2.9" ry="3.2"/>
<ellipse cx="728.9" cy="253.7" rx="2.9" ry="3.2"/>
<ellipse cx="729.4" cy="251.1" rx="2.9" ry="3.2"/>
<ellipse cx="729.9" cy="249.1" rx="2.9" ry="3.2"/>
<ellipse cx="730.4" cy="244.9" rx="2.9" ry="3.2"/>
<ellipse cx="730.9" cy="243.2" rx="2.9" ry="3.2"/>
<ellipse cx="731.4" cy="244.5" rx="2.9" ry="3.2"/>
<ellipse cx="731.9" cy="250.4" rx="2.9" ry="3.2"/>
<ellipse cx="732.4" cy="256.3" rx="2.9" ry="3.2"/>
<ellipse cx="732.9" cy="262.1" rx="2.9" ry="3.2"/>
<ellipse cx="733.4" cy="263.1" rx="2.9" ry="3.2"/>
<ellipse cx="733.9" cy="256.5" rx="2.9" ry="3.2"/>
<ellipse cx="734.4" cy="254.0" rx="2.9" ry="3.2"/>
<ellipse cx="734.9" cy="251.6" rx="2.9" ry="3.2"/>
<ellipse cx="735.4" cy="247.4" rx="2.9" ry="3.2"/>
<ellipse cx="735.9" cy="246.1" rx="2.9" ry="3.2"/>
<ellipse cx="736.4" cy="241.3" rx="2.9" ry="3.2"/>
<ellipse cx="736.9" cy="239.0" rx="2.9" ry="3.2"/>
<ellipse cx="737.4" cy="241.8" rx="2.9" ry="3.2"/>
<ellipse cx="737.9" cy="246.3" rx="2.9" ry="3.2"/>
<ellipse cx="738.4" cy="252.5" rx="2.9" ry="3.2"/>
<ellipse cx="738.9" cy="257.7" rx="2.9" ry="3.2"/>
<ellipse cx="739.4" cy="258.6" rx="2.9" ry="3.2"/>
<ellipse cx="739.9" cy="253.8" rx="2.9" ry="3.2"/>
<ellipse cx="740.4" cy="248.7" rx="2.9" ry="3.2"/>
<ellipse cx="740.9" cy="244.4" rx="2.9" ry="3.2"/>
<ellipse cx="741.4" cy="241.9" rx="2.9" ry="3.2"/>
<ellipse cx="741.9" cy="238.2" rx="2.9" ry="3.2"/>
<ellipse cx="742.4" cy="234.5" rx="2.9" ry="3.2"/>
<ellipse cx="742.9" cy="232.9" rx="2.9" ry="3.2"/>
<ellipse cx="743.4" cy="234.3" rx="2.9" ry="3.2"/>
<ellipse cx="743.9" cy="240.2" rx="2.9" ry="3.2"/>
<ellipse cx="744.4" cy="246.2" rx="2.9" ry="3.2"/>
<ellipse cx="744.9" cy="252.1" rx="2.9" ry="3.2"/>
<ellipse cx="745.4" cy="251.9" rx="2.9" ry="3.2"/>
<ellipse cx="745.9" cy="247.6" rx="2.9" ry="3.2"/>
<ellipse cx="746.4" cy="244.3" rx="2.9" ry="3.2"/>
<ellipse cx="746.9" cy="241.2" rx="2.9" ry="3.2"/>
<ellipse cx="747.4" cy="239.4" rx="2.9" ry="3.2"/>
<ellipse cx="747.9" cy="236.0" rx="2.9" ry="3.2"/>
<ellipse cx="748.4" cy="231.9" rx="2.9" ry="3.2"/>
<ellipse cx="748.9" cy="230.0" rx="2.9" ry="3.2"/>
<ellipse cx="749.4" cy="232.7" rx="2.9" ry="3.2"/>
<ellipse cx="749.9" cy="236.1" rx="2.9" ry="3.2"/>
<ellipse cx="750.4" cy="243.2" rx="2.9" ry="3.2"/>
<ellipse cx="750.9" cy="249.7" rx="2.9" ry="3.2"/>
<ellipse cx="751.4" cy="250.4" rx="2.9" ry="3.2"/>
<ellipse cx="751.9" cy="246.0" rx="2.9" ry="3.2"/>
<ellipse cx="752.4" cy="241.6" rx="2.9" ry="3.2"/>
<ellipse cx="752.9" cy="238.4" rx="2.9" ry="3.2"/>
<ellipse cx="753.4" cy="235.7" rx="2.9" ry="3.2"/>
<ellipse cx="753.9" cy="232.8" rx="2.9" ry="3.2"/>
<ellipse cx="754.4" cy="228.5" rx="2.9" ry="3.2"/>
<ellipse cx="754.9" cy="226.6" rx="2.9" ry="3.2"/>
<ellipse cx="755.3" cy="229.3" rx="2.9" ry="3.2"/>
<ellipse cx="755.8" cy="234.0" rx="2.9" ry="3.2"/>
<ellipse cx="756.3" cy="241.1" rx="2.9" ry="3.2"/>
<ellipse cx="756.8" cy="247.0" rx="2.9" ry="3.2"/>
<ellipse cx="757.3" cy="246.0" rx="2.9" ry="3.2"/>
<ellipse cx="757.8" cy="243.1" rx="2.9" ry="3.2"/>
<ellipse cx="758.3" cy="237.5" rx="2.9" ry="3.2"/>
<ellipse cx="758.8" cy="235.6" rx="2.9" ry="3.2"/>
<ellipse cx="759.3" cy="232.8" rx="2.9" ry="3.2"/>
<ellipse cx="759.8" cy="229.5" rx="2.9" ry="3.2"/>
<ellipse cx="760.3" cy="226.1" rx="2.9" ry="3.2"/>
<ellipse cx="760.8" cy="224.0" rx="2.9" ry="3.2"/>
<ellipse cx="761.3" cy="226.3" rx="2.9" ry="3.2"/>
<ellipse cx="761.8" cy="231.3" rx="2.9" ry="3.2"/>
<ellipse cx="762.3" cy="237.6" rx="2.9" ry="3.2"/>
<ellipse cx="762.8" cy="243.5" rx="2.9" ry="3.2"/>
<ellipse cx="763.3" cy="242.4" rx="2.9" ry="3.2"/>
<ellipse cx="763.8" cy="238.9" rx="2.9" ry="3.2"/>
<ellipse cx="764.3" cy="233.4" rx="2.9" ry="3.2"/>
<ellipse cx="764.8" cy="232.5" rx="2.9" ry="3.2"/>
<ellipse cx="765.3" cy="228.2" rx="2.9" ry="3.2"/>
<ellipse cx="765.8" cy="224.9" rx="2.9" ry="3.2"/>
<ellipse cx="766.3" cy="221.1" rx="2.9" ry="3.2"/>
<ellipse cx="766.8" cy="218.2" rx="2.9" ry="3.2"/>
<ellipse cx="767.3" cy="220.2" rx="2.9" ry="3.2"/>
<ellipse cx="767.8" cy="225.5" rx="2.9" ry="3.2"/>
<ellipse cx="768.3" cy="231.7" rx="2.9" ry="3.2"/>
<ellipse cx="768.8" cy="236.0" rx="2.9" ry="3.2"/>
<ellipse cx="769.3" cy="237.7" rx="2.9" ry="3.2"/>
<ellipse cx="769.8" cy="233.1" rx="2.9" ry="3.2"/>
<ellipse cx="770.3" cy="229.2" rx="2.9" ry="3.2"/>
<ellipse cx="770.8" cy="225.3" rx="2.9" ry="3.2"/>
<ellipse cx="771.3" cy="223.5" rx="2.9" ry="3.2"/>
<ellipse cx="771.8" cy="219.9" rx="2.9" ry="3.2"/>
<ellipse cx="772.3" cy="214.1" rx="2.9" ry="3.2"/>
<ellipse cx="772.8" cy="212.7" rx="2.9" ry="3.2"/>
<ellipse cx="773.3" cy="214.8" rx="2.9" ry="3.2"/>
<ellipse cx="773.8" cy="219.4" rx="2.9" ry="3.2"/>
<ellipse cx="774.3" cy="225.6" rx="2.9" ry="3.2"/>
<ellipse cx="774.8" cy="232.2" rx="2.9" ry="3.2"/>
<ellipse cx="775.3" cy="231.6" rx="2.9" ry="3.2"/>
<ellipse cx="775.8" cy="227.7" rx="2.9" ry="3.2"/>
<ellipse cx="776.3" cy="223.9" rx="2.9" ry="3.2"/>
<ellipse cx="776.8" cy="219.5" rx="2.9" ry="3.2"/>
<ellipse cx="777.3" cy="219.3" rx="2.9" ry="3.2"/>
<ellipse cx="777.8" cy="215.3" rx="2.9" ry="3.2"/>
<ellipse cx="778.3" cy="210.7" rx="2.9" ry="3.2"/>
<ellipse cx="778.8" cy="209.3" rx="2.9" ry="3.2"/>
<ellipse cx="779.3" cy="210.7" rx="2.9" ry="3.2"/>
<ellipse cx="779.8" cy="215.9" rx="2.9" ry="3.2"/>
<ellipse cx="780.3" cy="222.4" rx="2.9" ry="3.2"/>
<ellipse cx="780.8" cy="226.2" rx="2.9" ry="3.2"/>
<ellipse cx="781.3" cy="227.6" rx="2.9" ry="3.2"/>
<ellipse cx="781.8" cy="223.3" rx="2.9" ry="3.2"/>
<ellipse cx="782.3" cy="218.0" rx="2.9" ry="3.2"/>
<ellipse cx="782.8" cy="215.3" rx="2.9" ry="3.2"/>
<ellipse cx="783.3" cy="211.8" rx="2.9" ry="3.2"/>
<ellipse cx="783.8" cy="209.0" rx="2.9" ry="3.2"/>
<ellipse cx="784.3" cy="204.0" rx="2.9" ry="3.2"/>
<ellipse cx="784.8" cy="203.5" rx="2.9" ry="3.2"/>
<ellipse cx="785.3" cy="203.9" rx="2.9" ry="3.2"/>
<ellipse cx="785.8" cy="209.2" rx="2.9" ry="3.2"/>
<ellipse cx="786.3" cy="216.7" rx="2.9" ry="3.2"/>
<ellipse cx="786.8" cy="221.3" rx="2.9" ry="3.2"/>
<ellipse cx="787.3" cy="222.8" rx="2.9" ry="3.2"/>
<ellipse cx="787.8" cy="216.7" rx="2.9" ry="3.2"/>
<ellipse cx="788.3" cy="213.0" rx="2.9" ry="3.2"/>
<ellipse cx="788.8" cy="209.4" rx="2.9" ry="3.2"/>
<ellipse cx="789.3" cy="207.1" rx="2.9" ry="3.2"/>
<ellipse cx="789.8" cy="203.6" rx="2.9" ry="3.2"/>
<ellipse cx="790.3" cy="201.0" rx="2.9" ry="3.2"/>
<ellipse cx="790.8" cy="197.7" rx="2.9" ry="3.2"/>
<ellipse cx="791.3" cy="200.0" rx="2.9" ry="3.2"/>
<ellipse cx="791.8" cy="204.5" rx="2.9" ry="3.2"/>
<ellipse cx="792.3" cy="211.5" rx="2.9" ry="3.2"/>
<ellipse cx="792.8" cy="217.0" rx="2.9" ry="3.2"/>
<ellipse cx="793.3" cy="218.2" rx="2.9" ry="3.2"/>
<ellipse cx="793.8" cy="212.1" rx="2.9" ry="3.2"/>
<ellipse cx="794.3" cy="207.4" rx="2.9" ry="3.2"/>
<ellipse cx="794.8" cy="205.4" rx="2.9" ry="3.2"/>
<ellipse cx="795.3" cy="202.6" rx="2.9" ry="3.2"/>
<ellipse cx="795.8" cy="199.5" rx="2.9" ry="3.2"/>
<ellipse cx="796.3" cy="194.7" rx="2.9" ry="3.2"/>
<ellipse cx="796.8" cy="192.2" rx="2.9" ry="3.2"/>
<ellipse cx="797.3" cy="195.9" rx="2.9" ry="3.2"/>
<ellipse cx="797.8" cy="200.6" rx="2.9" ry="3.2"/>
<ellipse cx="798.3" cy="207.6" rx="2.9" ry="3.2"/>
<ellipse cx="798.8" cy="213.6" rx="2.9" ry="3.2"/>
<ellipse cx="799.3" cy="214.2" rx="2.9" ry="3.2"/>
<ellipse cx="799.8" cy="208.3" rx="2.9" ry="3.2"/>
<ellipse cx="800.3" cy="204.7" rx="2.9" ry="3.2"/>
<ellipse cx="800.8" cy="199.6" rx="2.9" ry="3.2"/>
<ellipse cx="801.2" cy="197.2" rx="2.9" ry="3.2"/>
<ellipse cx="801.7" cy="195.3" rx="2.9" ry="3.2"/>
<ellipse cx="802.2" cy="190.9" rx="2.9" ry="3.2"/>
<ellipse cx="802.7" cy="188.5" rx="2.9" ry="3.2"/>
<ellipse cx="803.2" cy="189.2" rx="2.9" ry="3.2"/>
<ellipse cx="803.7" cy="195.5" rx="2.9" ry="3.2"/>
<ellipse cx="804.2" cy="202.7" rx="2.9" ry="3.2"/>
<ellipse cx="804.7" cy="207.8" rx="2.9" ry="3.2"/>
<ellipse cx="805.2" cy="207.9" rx="2.9" ry="3.2"/>
<ellipse cx="805.7" cy="203.8" rx="2.9" ry="3.2"/>
<ellipse cx="806.2" cy="198.0" rx="2.9" ry="3.2"/>
<ellipse cx="806.7" cy="195.2" rx="2.9" ry="3.2"/>
<ellipse cx="807.2" cy="192.3" rx="2.9" ry="3.2"/>
<ellipse cx="807.7" cy="190.0" rx="2.9" ry="3.2"/>
<ellipse cx="808.2" cy="185.2" rx="2.9" ry="3.2"/>
<ellipse cx="808.7" cy="183.1" rx="2.9" ry="3.2"/>
<ellipse cx="809.2" cy="186.2" rx="2.9" ry="3.2"/>
<ellipse cx="809.7" cy="189.8" rx="2.9" ry="3.2"/>
<ellipse cx="810.2" cy="197.9" rx="2.9" ry="3.2"/>
<ellipse cx="810.7" cy="202.9" rx="2.9" ry="3.2"/>
<ellipse cx="811.2" cy="204.1" rx="2.9" ry="3.2"/>
<ellipse cx="811.7" cy="197.3" rx="2.9" ry="3.2"/>
<ellipse cx="812.2" cy="193.8" rx="2.9" ry="3.2"/>
<ellipse cx="812.7" cy="189.9" rx="2.9" ry="3.2"/>
<ellipse cx="813.2" cy="187.2" rx="2.9" ry="3.2"/>
<ellipse cx="813.7" cy="185.4" rx="2.9" ry="3.2"/>
<ellipse cx="814.2" cy="181.6" rx="2.9" ry="3.2"/>
<ellipse cx="814.7" cy="178.3" rx="2.9" ry="3.2"/>
<ellipse cx="815.2" cy="179.5" rx="2.9" ry="3.2"/>
<ellipse cx="815.7" cy="185.1" rx="2.9" ry="3.2"/>
<ellipse cx="816.2" cy="191.7" rx="2.9" ry="3.2"/>
<ellipse cx="816.7" cy="197.7" rx="2.9" ry="3.2"/>
<ellipse cx="817.2" cy="199.5" rx="2.9" ry="3.2"/>
<ellipse cx="817.7" cy="193.8" rx="2.9" ry="3.2"/>
<ellipse cx="818.2" cy="188.3" rx="2.9" ry="3.2"/>
<ellipse cx="818.7" cy="186.2" rx="2.9" ry="3.2"/>
<ellipse cx="819.2" cy="184.3" rx="2.9" ry="3.2"/>
<ellipse cx="819.7" cy="180.2" rx="2.9" ry="3.2"/>
<ellipse cx="820.2" cy="176.0" rx="2.9" ry="3.2"/>
<ellipse cx="820.7" cy="173.3" rx="2.9" ry="3.2"/>
<ellipse cx="821.2" cy="176.1" rx="2.9" ry="3.2"/>
<ellipse cx="821.7" cy="180.7" rx="2.9" ry="3.2"/>
<ellipse cx="822.2" cy="188.9" rx="2.9" ry="3.2"/>
<ellipse cx="822.7" cy="193.1" rx="2.9" ry="3.2"/>
<ellipse cx="823.2" cy="192.9" rx="2.9" ry="3.2"/>
<ellipse cx="823.7" cy="188.3" rx="2.9" ry="3.2"/>
<ellipse cx="824.2" cy="185.3" rx="2.9" ry="3.2"/>
<ellipse cx="824.7" cy="180.5" rx="2.9" ry="3.2"/>
<ellipse cx="825.2" cy="179.6" rx="2.9" ry="3.2"/>
<ellipse cx="825.7" cy="174.5" rx="2.9" ry="3.2"/>
<ellipse cx="826.2" cy="170.2" rx="2.9" ry="3.2"/>
<ellipse cx="826.7" cy="168.5" rx="2.9" ry="3.2"/>
<ellipse cx="827.2" cy="169.6" rx="2.9" ry="3.2"/>
<ellipse cx="827.7" cy="174.7" rx="2.9" ry="3.2"/>
<ellipse cx="828.2" cy="181.0" rx="2.9" ry="3.2"/>
<ellipse cx="828.7" cy="187.4" rx="2.9" ry="3.2"/>
<ellipse cx="829.2" cy="187.4" rx="2.9" ry="3.2"/>
<ellipse cx="829.7" cy="183.7" rx="2.9" ry="3.2"/>
<ellipse cx="830.2" cy="178.4" rx="2.9" ry="3.2"/>
<ellipse cx="830.7" cy="174.1" rx="2.9" ry="3.2"/>
<ellipse cx="831.2" cy="170.6" rx="2.9" ry="3.2"/>
<ellipse cx="831.7" cy="167.4" rx="2.9" ry="3.2"/>
<ellipse cx="832.2" cy="161.9" rx="2.9" ry="3.2"/>
<ellipse cx="832.7" cy="160.8" rx="2.9" ry="3.2"/>
<ellipse cx="833.2" cy="162.1" rx="2.9" ry="3.2"/>
<ellipse cx="833.7" cy="166.9" rx="2.9" ry="3.2"/>
<ellipse cx="834.2" cy="174.3" rx="2.9" ry="3.2"/>
<ellipse cx="834.7" cy="180.0" rx="2.9" ry="3.2"/>
<ellipse cx="835.2" cy="180.9" rx="2.9" ry="3.2"/>
<ellipse cx="835.7" cy="175.0" rx="2.9" ry="3.2"/>
<ellipse cx="836.2" cy="171.4" rx="2.9" ry="3.2"/>
<ellipse cx="836.7" cy="166.9" rx="2.9" ry="3.2"/>
<ellipse cx="837.2" cy="164.8" rx="2.9" ry="3.2"/>
<ellipse cx="837.7" cy="160.7" rx="2.9" ry="3.2"/>
<ellipse cx="838.2" cy="158.0" rx="2.9" ry="3.2"/>
<ellipse cx="838.7" cy="154.6" rx="2.9" ry="3.2"/>
<ellipse cx="839.2" cy="157.1" rx="2.9" ry="3.2"/>
<ellipse cx="839.7" cy="162.0" rx="2.9" ry="3.2"/>
<ellipse cx="840.2" cy="168.6" rx="2.9" ry="3.2"/>
<ellipse cx="840.7" cy="176.2" rx="2.9" ry="3.2"/>
<ellipse cx="841.2" cy="176.7" rx="2.9" ry="3.2"/>
<ellipse cx="841.7" cy="171.8" rx="2.9" ry="3.2"/>
<ellipse cx="842.2" cy="166.5" rx="2.9" ry="3.2"/>
<ellipse cx="842.7" cy="164.1" rx="2.9" ry="3.2"/>
<ellipse cx="843.2" cy="160.2" rx="2.9" ry="3.2"/>
<ellipse cx="843.7" cy="157.9" rx="2.9" ry="3.2"/>
<ellipse cx="844.2" cy="153.4" rx="2.9" ry="3.2"/>
<ellipse cx="844.7" cy="150.8" rx="2.9" ry="3.2"/>
<ellipse cx="845.2" cy="152.4" rx="2.9" ry="3.2"/>
<ellipse cx="845.7" cy="158.3" rx="2.9" ry="3.2"/>
<ellipse cx="846.2" cy="165.5" rx="2.9" ry="3.2"/>
<ellipse cx="846.7" cy="171.5" rx="2.9" ry="3.2"/>
<ellipse cx="847.1" cy="172.0" rx="2.9" ry="3.2"/>
<ellipse cx="847.6" cy="168.7" rx="2.9" ry="3.2"/>
<ellipse cx="848.1" cy="162.8" rx="2.9" ry="3.2"/>
<ellipse cx="848.6" cy="158.9" rx="2.9" ry="3.2"/>
<ellipse cx="849.1" cy="155.5" rx="2.9" ry="3.2"/>
<ellipse cx="849.6" cy="151.9" rx="2.9" ry="3.2"/>
<ellipse cx="850.1" cy="148.3" rx="2.9" ry="3.2"/>
<ellipse cx="850.6" cy="146.4" rx="2.9" ry="3.2"/>
<ellipse cx="851.1" cy="149.1" rx="2.9" ry="3.2"/>
<ellipse cx="851.6" cy="154.0" rx="2.9" ry="3.2"/>
<ellipse cx="852.1" cy="160.9" rx="2.9" ry="3.2"/>
<ellipse cx="852.6" cy="167.1" rx="2.9" ry="3.2"/>
<ellipse cx="853.1" cy="168.9" rx="2.9" ry="3.2"/>
<ellipse cx="853.6" cy="163.6" rx="2.9" ry="3.2"/>
<ellipse cx="854.1" cy="158.7" rx="2.9" ry="3.2"/>
<ellipse cx="854.6" cy="154.6" rx="2.9" ry="3.2"/>
<ellipse cx="855.1" cy="152.9" rx="2.9" ry="3.2"/>
<ellipse cx="855.6" cy="150.3" rx="2.9" ry="3.2"/>
<ellipse cx="856.1" cy="146.1" rx="2.9" ry="3.2"/>
<ellipse cx="856.6" cy="143.8" rx="2.9" ry="3.2"/>
<ellipse cx="857.1" cy="146.2" rx="2.9" ry="3.2"/>
<ellipse cx="857.6" cy="150.9" rx="2.9" ry="3.2"/>
<ellipse cx="858.1" cy="158.2" rx="2.9" ry="3.2"/>
<ellipse cx="858.6" cy="164.9" rx="2.9" ry="3.2"/>
<ellipse cx="859.1" cy="165.2" rx="2.9" ry="3.2"/>
<ellipse cx="859.6" cy="161.5" rx="2.9" ry="3.2"/>
<ellipse cx="860.1" cy="156.5" rx="2.9" ry="3.2"/>
<ellipse cx="860.6" cy="153.4" rx="2.9" ry="3.2"/>
<ellipse cx="861.1" cy="150.6" rx="2.9" ry="3.2"/>
<ellipse cx="861.6" cy="146.9" rx="2.9" ry="3.2"/>
<ellipse cx="862.1" cy="143.3" rx="2.9" ry="3.2"/>
<ellipse cx="862.6" cy="142.3" rx="2.9" ry="3.2"/>
<ellipse cx="863.1" cy="143.6" rx="2.9" ry="3.2"/>
<ellipse cx="863.6" cy="149.4" rx="2.9" ry="3.2"/>
<ellipse cx="864.1" cy="157.0" rx="2.9" ry="3.2"/>
<ellipse cx="864.6" cy="162.9" rx="2.9" ry="3.2"/>
<ellipse cx="865.1" cy="162.1" rx="2.9" ry="3.2"/>
<ellipse cx="865.6" cy="156.7" rx="2.9" ry="3.2"/>
<ellipse cx="866.1" cy="153.2" rx="2.9" ry="3.2"/>
<ellipse cx="866.6" cy="148.5" rx="2.9" ry="3.2"/>
<ellipse cx="867.1" cy="145.5" rx="2.9" ry="3.2"/>
<ellipse cx="867.6" cy="143.6" rx="2.9" ry="3.2"/>
<ellipse cx="868.1" cy="138.3" rx="2.9" ry="3.2"/>
<ellipse cx="868.6" cy="135.9" rx="2.9" ry="3.2"/>
<ellipse cx="869.1" cy="137.8" rx="2.9" ry="3.2"/>
<ellipse cx="869.6" cy="144.1" rx="2.9" ry="3.2"/>
<ellipse cx="870.1" cy="150.6" rx="2.9" ry="3.2"/>
<ellipse cx="870.6" cy="156.0" rx="2.9" ry="3.2"/>
<ellipse cx="871.1" cy="156.1" rx="2.9" ry="3.2"/>
<ellipse cx="871.6" cy="150.7" rx="2.9" ry="3.2"/>
<ellipse cx="872.1" cy="147.1" rx="2.9" ry="3.2"/>
<ellipse cx="872.6" cy="141.9" rx="2.9" ry="3.2"/>
<ellipse cx="873.1" cy="139.6" rx="2.9" ry="3.2"/>
<ellipse cx="873.6" cy="137.4" rx="2.9" ry="3.2"/>
<ellipse cx="874.1" cy="131.4" rx="2.9" ry="3.2"/>
<ellipse cx="874.6" cy="129.7" rx="2.9" ry="3.2"/>
<ellipse cx="875.1" cy="131.1" rx="2.9" ry="3.2"/>
<ellipse cx="875.6" cy="136.8" rx="2.9" ry="3.2"/>
<ellipse cx="876.1" cy="143.3" rx="2.9" ry="3.2"/>
<ellipse cx="876.6" cy="150.2" rx="2.9" ry="3.2"/>
<ellipse cx="877.1" cy="150.8" rx="2.9" ry="3.2"/>
<ellipse cx="877.6" cy="145.0" rx="2.9" ry="3.2"/>
<ellipse cx="878.1" cy="140.6" rx="2.9" ry="3.2"/>
</g>
<g stroke="#000" stroke-width="2.2" fill="none" stroke-linecap="butt">
<path d="M87.2 0V312.1M86.1 311H528"/>
<path d="M632.7 0V311.9M631.6 310.8H1073"/>
<path d="M79 257.6H86.2"/>
<path d="M79 201.8H86.2"/>
<path d="M79 146.0H86.2"/>
<path d="M79 90.2H86.2"/>
<path d="M79 34.4H86.2"/>
<path d="M126.0 312V320.6"/>
<path d="M232.1 312V320.6"/>
<path d="M338.1 312V320.6"/>
<path d="M444.2 312V320.6"/>
<path d="M624.3 273.3H631.7"/>
<path d="M624.3 207.9H631.7"/>
<path d="M624.3 142.5H631.7"/>
<path d="M624.3 77.2H631.7"/>
<path d="M624.3 11.8H631.7"/>
<path d="M662.8 311.8V320.3"/>
<path d="M782.5 311.8V320.3"/>
<path d="M902.3 311.8V320.3"/>
<path d="M1022.0 311.8V320.3"/>
</g>
<text transform="translate(70.30 266.35) scale(0.914 1)" text-anchor="end" font-family="'Liberation Serif', serif" font-size="24.1px" fill="#000">320</text>
<text transform="translate(70.30 210.54) scale(0.914 1)" text-anchor="end" font-family="'Liberation Serif', serif" font-size="24.1px" fill="#000">330</text>
<text transform="translate(70.30 154.73) scale(0.914 1)" text-anchor="end" font-family="'Liberation Serif', serif" font-size="24.1px" fill="#000">340</text>
<text transform="translate(70.30 98.92) scale(0.914 1)" text-anchor="end" font-family="'Liberation Serif', serif" font-size="24.1px" fill="#000">350</text>
<text transform="translate(70.30 43.11) scale(0.914 1)" text-anchor="end" font-family="'Liberation Serif', serif" font-size="24.1px" fill="#000">360</text>
<text transform="translate(125.70 347.20) scale(0.914 1)" text-anchor="middle" font-family="'Liberation Serif', serif" font-size="24.1px" fill="#000">1960</text>
<text transform="translate(231.77 347.20) scale(0.914 1)" text-anchor="middle" font-family="'Liberation Serif', serif" font-size="24.1px" fill="#000">1970</text>
<text transform="translate(337.84 347.20) scale(0.914 1)" text-anchor="middle" font-family="'Liberation Serif', serif" font-size="24.1px" fill="#000">1980</text>
<text transform="translate(443.91 347.20) scale(0.914 1)" text-anchor="middle" font-family="'Liberation Serif', serif" font-size="24.1px" fill="#000">1990</text>
<text transform="translate(615.30 282.00) scale(0.914 1)" text-anchor="end" font-family="'Liberation Serif', serif" font-size="24.1px" fill="#000">320</text>
<text transform="translate(615.30 216.62) scale(0.914 1)" text-anchor="end" font-family="'Liberation Serif', serif" font-size="24.1px" fill="#000">340</text>
<text transform="translate(615.30 151.24) scale(0.914 1)" text-anchor="end" font-family="'Liberation Serif', serif" font-size="24.1px" fill="#000">360</text>
<text transform="translate(615.30 85.86) scale(0.914 1)" text-anchor="end" font-family="'Liberation Serif', serif" font-size="24.1px" fill="#000">380</text>
<text transform="translate(615.30 20.48) scale(0.914 1)" text-anchor="end" font-family="'Liberation Serif', serif" font-size="24.1px" fill="#000">400</text>
<text transform="translate(662.50 347.20) scale(0.914 1)" text-anchor="middle" font-family="'Liberation Serif', serif" font-size="24.1px" fill="#000">1960</text>
<text transform="translate(782.24 347.20) scale(0.914 1)" text-anchor="middle" font-family="'Liberation Serif', serif" font-size="24.1px" fill="#000">1980</text>
<text transform="translate(901.98 347.20) scale(0.914 1)" text-anchor="middle" font-family="'Liberation Serif', serif" font-size="24.1px" fill="#000">2000</text>
<text transform="translate(1021.72 347.20) scale(0.914 1)" text-anchor="middle" font-family="'Liberation Serif', serif" font-size="24.1px" fill="#000">2020</text>
<text transform="translate(306.90 377.40) scale(0.985 1)" text-anchor="middle" font-family="'Liberation Serif', serif" font-size="23.5px" fill="#000">year</text>
<text transform="translate(851.20 377.40) scale(0.985 1)" text-anchor="middle" font-family="'Liberation Serif', serif" font-size="23.5px" fill="#000">year</text>
<text transform="translate(267.70 416.80) scale(1.07 1)" text-anchor="middle" font-family="'Liberation Serif', serif" font-size="23px" font-style="italic" fill="#000">(a)</text>
<text transform="translate(812.30 416.80) scale(1.07 1)" text-anchor="middle" font-family="'Liberation Serif', serif" font-size="23px" font-style="italic" fill="#000">(b)</text>
<text transform="translate(24.30 154.00) rotate(-90) scale(1.085 1)" text-anchor="middle" font-family="'Liberation Serif', serif" font-size="23.5px" word-spacing="3" fill="#000">CO<tspan font-size="15px" dy="2.2">2</tspan><tspan dy="-2.2"> in ppm</tspan></text>
<text transform="translate(568.70 154.00) rotate(-90) scale(1.085 1)" text-anchor="middle" font-family="'Liberation Serif', serif" font-size="23.5px" word-spacing="3" fill="#000">CO<tspan font-size="15px" dy="2.2">2</tspan><tspan dy="-2.2"> in ppm</tspan></text>
<text transform="translate(167.60 37.70) scale(1.06 1)" text-anchor="start" font-family="'Liberation Serif', serif" font-size="23.5px" fill="#000">Data</text>
<ellipse cx="128.2" cy="31.4" rx="2.65" ry="2.95" fill="#000"/>
<ellipse cx="654.9" cy="16.7" rx="2.9" ry="3.2" fill="#000"/>
<path d="M641.1 34.3H668.9" stroke="#1f77b4" stroke-width="3.8"/>
<rect x="642" y="47.2" width="26" height="11.5" fill="#1f77b4" fill-opacity="0.5"/>
<text transform="translate(676.80 20.00) scale(1.34 1)" text-anchor="start" font-family="'DejaVu Serif', 'Liberation Serif', serif" font-size="11px" letter-spacing="0" fill="#000">Data</text>
<text transform="translate(677.00 38.90) scale(1.2 1)" text-anchor="start" font-family="'DejaVu Serif', 'Liberation Serif', serif" font-size="11px" letter-spacing="0" fill="#000">Mean</text>
<text transform="translate(677.00 57.90) scale(1.235 1)" text-anchor="start" font-family="'DejaVu Serif', 'Liberation Serif', serif" font-size="11px" letter-spacing="0" fill="#000">Confidence</text>
</svg>
</body></html>
